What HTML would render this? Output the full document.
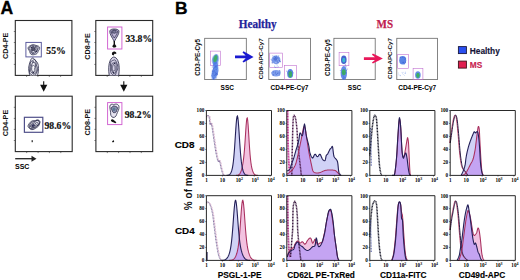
<!DOCTYPE html>
<html><head><meta charset="utf-8"><title>Figure</title>
<style>html,body{margin:0;padding:0;background:#fff;width:520px;height:280px;overflow:hidden}svg{display:block}</style>
</head><body>
<svg width="520" height="280" viewBox="0 0 520 280">
<defs><filter id="bl" x="-50%" y="-50%" width="200%" height="200%"><feGaussianBlur stdDeviation="0.6"/></filter></defs>
<rect width="520" height="280" fill="#fff"/>
<text x="0.4" y="13.7" font-family='"Liberation Sans", sans-serif' font-weight="bold" font-size="17.6" stroke="#000" stroke-width="0.3">A</text>
<text x="174.9" y="13.7" font-family='"Liberation Sans", sans-serif' font-weight="bold" font-size="17.4" stroke="#000" stroke-width="0.3">B</text>
<rect x="15.3" y="20.5" width="56.60000000000001" height="54.900000000000006" fill="none" stroke="#2a2a2a" stroke-width="1.1"/>
<line x1="26.6" y1="75.4" x2="26.6" y2="76.9" stroke="#333" stroke-width="0.6"/><line x1="13.8" y1="64.4" x2="15.3" y2="64.4" stroke="#333" stroke-width="0.6"/><line x1="37.9" y1="75.4" x2="37.9" y2="76.9" stroke="#333" stroke-width="0.6"/><line x1="13.8" y1="53.4" x2="15.3" y2="53.4" stroke="#333" stroke-width="0.6"/><line x1="49.3" y1="75.4" x2="49.3" y2="76.9" stroke="#333" stroke-width="0.6"/><line x1="13.8" y1="42.5" x2="15.3" y2="42.5" stroke="#333" stroke-width="0.6"/><line x1="60.6" y1="75.4" x2="60.6" y2="76.9" stroke="#333" stroke-width="0.6"/><line x1="13.8" y1="31.5" x2="15.3" y2="31.5" stroke="#333" stroke-width="0.6"/>
<rect x="95.8" y="20.5" width="56.89999999999999" height="54.900000000000006" fill="none" stroke="#2a2a2a" stroke-width="1.1"/>
<line x1="107.2" y1="75.4" x2="107.2" y2="76.9" stroke="#333" stroke-width="0.6"/><line x1="94.3" y1="64.4" x2="95.8" y2="64.4" stroke="#333" stroke-width="0.6"/><line x1="118.6" y1="75.4" x2="118.6" y2="76.9" stroke="#333" stroke-width="0.6"/><line x1="94.3" y1="53.4" x2="95.8" y2="53.4" stroke="#333" stroke-width="0.6"/><line x1="129.9" y1="75.4" x2="129.9" y2="76.9" stroke="#333" stroke-width="0.6"/><line x1="94.3" y1="42.5" x2="95.8" y2="42.5" stroke="#333" stroke-width="0.6"/><line x1="141.3" y1="75.4" x2="141.3" y2="76.9" stroke="#333" stroke-width="0.6"/><line x1="94.3" y1="31.5" x2="95.8" y2="31.5" stroke="#333" stroke-width="0.6"/>
<rect x="15.3" y="96.2" width="56.900000000000006" height="55.39999999999999" fill="none" stroke="#2a2a2a" stroke-width="1.1"/>
<line x1="26.7" y1="151.6" x2="26.7" y2="153.1" stroke="#333" stroke-width="0.6"/><line x1="13.8" y1="140.5" x2="15.3" y2="140.5" stroke="#333" stroke-width="0.6"/><line x1="38.1" y1="151.6" x2="38.1" y2="153.1" stroke="#333" stroke-width="0.6"/><line x1="13.8" y1="129.4" x2="15.3" y2="129.4" stroke="#333" stroke-width="0.6"/><line x1="49.4" y1="151.6" x2="49.4" y2="153.1" stroke="#333" stroke-width="0.6"/><line x1="13.8" y1="118.4" x2="15.3" y2="118.4" stroke="#333" stroke-width="0.6"/><line x1="60.8" y1="151.6" x2="60.8" y2="153.1" stroke="#333" stroke-width="0.6"/><line x1="13.8" y1="107.3" x2="15.3" y2="107.3" stroke="#333" stroke-width="0.6"/>
<rect x="95.9" y="96.2" width="56.79999999999998" height="55.39999999999999" fill="none" stroke="#2a2a2a" stroke-width="1.1"/>
<line x1="107.3" y1="151.6" x2="107.3" y2="153.1" stroke="#333" stroke-width="0.6"/><line x1="94.4" y1="140.5" x2="95.9" y2="140.5" stroke="#333" stroke-width="0.6"/><line x1="118.6" y1="151.6" x2="118.6" y2="153.1" stroke="#333" stroke-width="0.6"/><line x1="94.4" y1="129.4" x2="95.9" y2="129.4" stroke="#333" stroke-width="0.6"/><line x1="130.0" y1="151.6" x2="130.0" y2="153.1" stroke="#333" stroke-width="0.6"/><line x1="94.4" y1="118.4" x2="95.9" y2="118.4" stroke="#333" stroke-width="0.6"/><line x1="141.3" y1="151.6" x2="141.3" y2="153.1" stroke="#333" stroke-width="0.6"/><line x1="94.4" y1="107.3" x2="95.9" y2="107.3" stroke="#333" stroke-width="0.6"/>
<text transform="translate(8.4,45.8) rotate(-90)" text-anchor="middle" font-family='"Liberation Sans", sans-serif' font-weight="bold" font-size="7.2" fill="#111">CD4-PE</text>
<text transform="translate(89.8,46.5) rotate(-90)" text-anchor="middle" font-family='"Liberation Sans", sans-serif' font-weight="bold" font-size="7.2" fill="#111">CD8-PE</text>
<text transform="translate(8.4,123.0) rotate(-90)" text-anchor="middle" font-family='"Liberation Sans", sans-serif' font-weight="bold" font-size="7.2" fill="#111">CD4-PE</text>
<text transform="translate(89.8,122.2) rotate(-90)" text-anchor="middle" font-family='"Liberation Sans", sans-serif' font-weight="bold" font-size="7.2" fill="#111">CD8-PE</text>
<rect x="25.9" y="42.4" width="15.4" height="14.5" fill="none" stroke="#55559a" stroke-width="0.95"/>
<rect x="107.6" y="27" width="14.3" height="22" fill="none" stroke="#d060d0" stroke-width="0.95"/>
<rect x="24.4" y="117.3" width="18.4" height="15" fill="none" stroke="#50508a" stroke-width="1.2"/>
<rect x="107.6" y="102.6" width="14.3" height="22" fill="none" stroke="#d060d0" stroke-width="0.95"/>
<text x="46.3" y="53.8" font-family='"Liberation Serif", serif' font-weight="bold" font-size="9.7" fill="#111" stroke="#111" stroke-width="0.2">55%</text>
<text x="125.5" y="41.7" font-family='"Liberation Serif", serif' font-weight="bold" font-size="9.7" fill="#111" stroke="#111" stroke-width="0.2">33.8%</text>
<text x="44.5" y="128.8" font-family='"Liberation Serif", serif' font-weight="bold" font-size="9.7" fill="#111" stroke="#111" stroke-width="0.2">98.6%</text>
<text x="124.7" y="117.8" font-family='"Liberation Serif", serif' font-weight="bold" font-size="9.7" fill="#111" stroke="#111" stroke-width="0.2">98.2%</text>
<clipPath id="cA1"><rect x="15.3" y="20.5" width="56.6" height="54.9"/></clipPath>
<clipPath id="cB1"><rect x="95.8" y="20.5" width="56.9" height="54.9"/></clipPath>
<g>
<path d="M39.25,49.50 L38.79,50.23 L38.39,50.88 L38.09,51.53 L37.83,52.21 L37.48,52.91 L36.96,53.52 L36.27,53.99 L35.49,54.31 L34.66,54.54 L33.80,54.71 L32.89,54.80 L31.97,54.71 L31.12,54.36 L30.47,53.74 L30.07,52.95 L29.86,52.15 L29.68,51.44 L29.39,50.83 L28.94,50.21 L28.45,49.50 L28.12,48.67 L28.11,47.79 L28.47,46.99 L29.10,46.34 L29.84,45.84 L30.61,45.43 L31.37,45.08 L32.15,44.80 L32.97,44.66 L33.80,44.71 L34.58,44.92 L35.31,45.20 L36.03,45.45 L36.82,45.65 L37.71,45.88 L38.60,46.27 L39.30,46.90 L39.66,47.74 L39.61,48.65 Z" fill="#e6e6f0" stroke="#2a2a48" stroke-width="0.8" opacity="1"/>
<path d="M37.70,49.30 L37.39,49.86 L37.15,50.37 L36.97,50.89 L36.75,51.43 L36.44,51.94 L36.01,52.38 L35.49,52.74 L34.91,53.04 L34.29,53.32 L33.60,53.54 L32.86,53.62 L32.14,53.48 L31.53,53.08 L31.10,52.49 L30.86,51.84 L30.70,51.26 L30.48,50.77 L30.14,50.35 L29.69,49.87 L29.30,49.30 L29.09,48.64 L29.16,47.96 L29.48,47.35 L29.96,46.84 L30.50,46.42 L31.07,46.07 L31.67,45.79 L32.31,45.62 L32.97,45.61 L33.60,45.74 L34.18,45.92 L34.73,46.06 L35.34,46.13 L36.04,46.18 L36.80,46.33 L37.50,46.67 L37.97,47.23 L38.12,47.93 L37.99,48.65 Z" fill="none" stroke="#2a2a48" stroke-width="0.8" opacity="1"/>
<path d="M36.98,49.60 L36.89,50.04 L36.83,50.49 L36.72,50.94 L36.47,51.34 L36.04,51.59 L35.51,51.67 L35.02,51.66 L34.63,51.70 L34.29,51.92 L33.90,52.29 L33.38,52.67 L32.77,52.85 L32.21,52.70 L31.83,52.25 L31.68,51.67 L31.65,51.13 L31.59,50.70 L31.42,50.35 L31.18,50.00 L30.98,49.60 L30.96,49.17 L31.12,48.76 L31.38,48.40 L31.61,48.05 L31.79,47.63 L31.99,47.14 L32.30,46.67 L32.78,46.38 L33.35,46.39 L33.90,46.69 L34.32,47.14 L34.62,47.52 L34.93,47.71 L35.36,47.72 L35.92,47.71 L36.50,47.84 L36.94,48.16 L37.13,48.62 L37.10,49.13 Z" fill="none" stroke="#2a2a48" stroke-width="0.8" opacity="1"/>
<path d="M35.23,49.20 L35.30,49.47 L35.40,49.78 L35.42,50.12 L35.27,50.41 L34.95,50.57 L34.55,50.56 L34.17,50.45 L33.90,50.37 L33.71,50.43 L33.50,50.63 L33.22,50.88 L32.87,51.04 L32.52,51.01 L32.27,50.80 L32.12,50.50 L32.03,50.21 L31.93,49.95 L31.79,49.72 L31.66,49.48 L31.63,49.20 L31.74,48.94 L31.97,48.73 L32.21,48.58 L32.36,48.42 L32.40,48.17 L32.43,47.81 L32.54,47.42 L32.79,47.14 L33.14,47.07 L33.50,47.23 L33.78,47.53 L33.98,47.81 L34.16,47.98 L34.38,48.05 L34.67,48.10 L34.95,48.21 L35.14,48.41 L35.21,48.67 L35.22,48.94 Z" fill="#55556a" stroke="#2a2a48" stroke-width="0.8" opacity="1"/>
<circle cx="31.3" cy="47.6" r="0.8" fill="#2a2a48"/><circle cx="36.3" cy="51.5" r="0.8" fill="#2a2a48"/><circle cx="35.8" cy="46.8" r="0.6" fill="#2a2a48"/>
</g>
<g clip-path="url(#cA1)">
<path d="M38.47,68.50 L38.45,70.07 L38.34,71.64 L38.09,73.18 L37.65,74.53 L37.04,75.57 L36.31,76.24 L35.57,76.64 L34.87,76.96 L34.20,77.38 L33.50,77.88 L32.72,78.29 L31.90,78.36 L31.10,77.92 L30.42,76.98 L29.89,75.71 L29.50,74.31 L29.19,72.89 L28.93,71.47 L28.74,70.01 L28.67,68.50 L28.77,67.00 L29.02,65.59 L29.36,64.28 L29.72,63.01 L30.11,61.71 L30.55,60.38 L31.12,59.17 L31.85,58.32 L32.67,58.02 L33.50,58.28 L34.26,58.93 L34.93,59.72 L35.55,60.46 L36.18,61.13 L36.82,61.85 L37.43,62.79 L37.93,63.99 L38.25,65.41 L38.42,66.94 Z" fill="#eeeef4" stroke="#2a2a48" stroke-width="0.8" opacity="1"/>
<path d="M37.38,68.20 L37.49,69.60 L37.31,70.94 L36.92,72.07 L36.44,72.97 L35.99,73.79 L35.58,74.68 L35.15,75.60 L34.63,76.34 L34.02,76.64 L33.40,76.41 L32.84,75.83 L32.35,75.21 L31.85,74.77 L31.27,74.51 L30.62,74.19 L30.00,73.52 L29.57,72.41 L29.43,70.98 L29.55,69.52 L29.78,68.20 L29.98,67.03 L30.09,65.88 L30.15,64.62 L30.29,63.33 L30.62,62.20 L31.12,61.41 L31.70,60.99 L32.28,60.74 L32.83,60.44 L33.40,60.01 L34.03,59.63 L34.69,59.61 L35.30,60.16 L35.74,61.25 L36.00,62.59 L36.15,63.88 L36.34,64.96 L36.66,65.92 L37.05,66.95 Z" fill="none" stroke="#2a2a48" stroke-width="0.8" opacity="1"/>
<path d="M35.93,68.50 L36.11,69.46 L36.20,70.52 L36.11,71.57 L35.87,72.47 L35.50,73.12 L35.09,73.56 L34.68,73.84 L34.28,74.03 L33.89,74.14 L33.50,74.13 L33.12,73.97 L32.77,73.70 L32.42,73.39 L32.06,73.08 L31.67,72.73 L31.26,72.26 L30.89,71.57 L30.65,70.63 L30.60,69.56 L30.73,68.50 L30.98,67.58 L31.25,66.81 L31.48,66.13 L31.66,65.41 L31.83,64.64 L32.04,63.85 L32.32,63.15 L32.67,62.62 L33.07,62.29 L33.50,62.13 L33.94,62.12 L34.37,62.29 L34.78,62.70 L35.12,63.37 L35.34,64.25 L35.46,65.21 L35.52,66.12 L35.60,66.93 L35.74,67.68 Z" fill="none" stroke="#2a2a48" stroke-width="0.8" opacity="1"/>
<path d="M34.57,69.00 L34.65,69.51 L34.72,70.11 L34.72,70.74 L34.62,71.30 L34.42,71.69 L34.19,71.94 L33.97,72.13 L33.76,72.37 L33.54,72.64 L33.30,72.84 L33.05,72.83 L32.82,72.54 L32.65,72.07 L32.53,71.56 L32.40,71.15 L32.23,70.87 L32.00,70.59 L31.76,70.20 L31.60,69.65 L31.57,69.00 L31.68,68.39 L31.87,67.88 L32.05,67.47 L32.19,67.07 L32.30,66.60 L32.43,66.11 L32.60,65.72 L32.83,65.52 L33.07,65.53 L33.30,65.64 L33.52,65.72 L33.75,65.70 L34.01,65.65 L34.29,65.73 L34.52,66.06 L34.66,66.63 L34.67,67.32 L34.62,67.97 L34.56,68.52 Z" fill="none" stroke="#2a2a48" stroke-width="0.7" opacity="1"/>
<ellipse cx="33.4" cy="67.3" rx="0.9" ry="1.4" fill="#fff"/>
<circle cx="33" cy="62" r="0.8" fill="#2a2a48"/><circle cx="33.4" cy="72.5" r="0.9" fill="#2a2a48"/><circle cx="31" cy="65" r="0.6" fill="#2a2a48"/>
</g>
<path d="M109.8,31 C110,28.3 118.5,28.3 119,31 C119.3,34 116.5,37.5 114.3,41.5 C112,37.5 109.5,34 109.8,31 Z" fill="#bcb4d4" stroke="#2a2a48" stroke-width="0.8"/>
<path d="M111.2,31.2 C111.8,29.6 117,29.6 117.6,31.2 C117.6,33.5 115.8,35.8 114.3,38 C112.8,35.8 111.2,33.5 111.2,31.2 Z" fill="none" stroke="#2a2a48" stroke-width="0.7"/>
<path d="M116.34,31.80 L116.47,32.07 L116.41,32.34 L116.18,32.56 L115.87,32.71 L115.57,32.83 L115.32,32.95 L115.08,33.09 L114.81,33.22 L114.51,33.28 L114.20,33.25 L113.91,33.16 L113.65,33.06 L113.39,33.00 L113.06,32.97 L112.68,32.94 L112.32,32.83 L112.07,32.62 L112.01,32.33 L112.13,32.05 L112.34,31.80 L112.52,31.60 L112.61,31.41 L112.62,31.20 L112.64,30.95 L112.75,30.71 L112.97,30.53 L113.26,30.42 L113.58,30.37 L113.89,30.32 L114.20,30.25 L114.54,30.20 L114.89,30.21 L115.20,30.32 L115.41,30.55 L115.51,30.82 L115.55,31.06 L115.63,31.25 L115.81,31.41 L116.08,31.58 Z" fill="#7a7898" stroke="#2a2a48" stroke-width="0.7" opacity="1"/>
<path d="M113.6,41 L115,41 L115,44.2 L116.5,46.3 L115.3,47.6 L113.3,47.6 L112.2,46.3 L113.6,44.2 Z" fill="#111"/>
<g clip-path="url(#cB1)">
<path d="M109.3,76 C108.3,70 108.5,64 110.2,60.5 C111,58.5 112.5,57.2 113.8,57 C115.5,57.2 117,58.5 117.8,60.5 C119.5,64 119.5,70 118.6,76 Z" fill="#d6d2e6" stroke="#2a2a48" stroke-width="0.85"/>
<path d="M117.83,67.50 L117.67,68.79 L117.32,69.91 L116.90,70.81 L116.51,71.62 L116.21,72.50 L115.91,73.51 L115.55,74.53 L115.07,75.32 L114.50,75.69 L113.90,75.62 L113.33,75.26 L112.80,74.81 L112.28,74.37 L111.76,73.89 L111.26,73.21 L110.88,72.26 L110.66,71.07 L110.61,69.82 L110.63,68.62 L110.63,67.50 L110.56,66.35 L110.47,65.09 L110.48,63.72 L110.69,62.45 L111.11,61.46 L111.68,60.89 L112.28,60.63 L112.85,60.49 L113.37,60.29 L113.90,60.02 L114.46,59.85 L115.03,59.98 L115.55,60.47 L115.99,61.27 L116.35,62.18 L116.70,63.09 L117.08,63.99 L117.46,65.00 L117.74,66.18 Z" fill="none" stroke="#2a2a48" stroke-width="0.75" opacity="1"/>
<path d="M116.27,67.80 L116.28,68.65 L116.22,69.49 L116.06,70.27 L115.85,70.97 L115.61,71.63 L115.36,72.29 L115.08,72.97 L114.74,73.57 L114.33,73.94 L113.90,73.95 L113.49,73.59 L113.15,72.99 L112.87,72.34 L112.61,71.79 L112.32,71.34 L111.99,70.90 L111.67,70.34 L111.42,69.61 L111.29,68.73 L111.27,67.80 L111.35,66.89 L111.46,66.03 L111.61,65.18 L111.80,64.39 L112.07,63.71 L112.42,63.23 L112.81,62.99 L113.19,62.92 L113.55,62.88 L113.90,62.75 L114.27,62.52 L114.69,62.33 L115.14,62.36 L115.55,62.73 L115.85,63.42 L116.04,64.32 L116.13,65.26 L116.17,66.14 L116.22,66.98 Z" fill="none" stroke="#2a2a48" stroke-width="0.75" opacity="1"/>
<path d="M115.04,68.00 L115.07,68.49 L115.09,69.03 L115.07,69.59 L114.97,70.10 L114.78,70.47 L114.54,70.66 L114.30,70.70 L114.08,70.70 L113.89,70.77 L113.70,70.92 L113.49,71.08 L113.25,71.15 L113.02,71.03 L112.83,70.74 L112.68,70.33 L112.56,69.90 L112.45,69.46 L112.34,69.01 L112.26,68.52 L112.24,68.00 L112.30,67.49 L112.42,67.05 L112.57,66.69 L112.70,66.34 L112.80,65.95 L112.90,65.48 L113.03,64.99 L113.22,64.61 L113.45,64.45 L113.70,64.52 L113.92,64.76 L114.12,65.06 L114.30,65.33 L114.48,65.56 L114.66,65.81 L114.82,66.13 L114.94,66.56 L115.00,67.03 L115.02,67.52 Z" fill="none" stroke="#2a2a48" stroke-width="0.7" opacity="1"/>
<circle cx="113.5" cy="72.6" r="0.8" fill="#2a2a48"/><circle cx="114.5" cy="63.5" r="0.7" fill="#2a2a48"/>
</g>
<path d="M112,54.8 C111.5,52.6 113,51.4 114.6,51.6 C116.2,51.9 116.8,53.2 116,54.2 C115.2,53.4 114,53.6 113.8,55.4 Z" fill="#111"/>
<path d="M39.25,121.90 L39.33,122.57 L39.32,123.24 L39.27,123.91 L39.15,124.60 L38.90,125.31 L38.47,126.01 L37.86,126.66 L37.14,127.23 L36.38,127.73 L35.61,128.20 L34.81,128.68 L33.95,129.13 L33.03,129.46 L32.10,129.60 L31.27,129.50 L30.59,129.20 L30.04,128.79 L29.57,128.38 L29.11,127.97 L28.65,127.54 L28.28,127.03 L28.08,126.42 L28.12,125.72 L28.37,125.00 L28.76,124.30 L29.21,123.61 L29.71,122.92 L30.29,122.25 L31.01,121.63 L31.85,121.14 L32.76,120.82 L33.65,120.67 L34.49,120.61 L35.29,120.57 L36.11,120.52 L36.95,120.49 L37.78,120.57 L38.49,120.84 L38.99,121.30 Z" fill="#eaeaf2" stroke="#2a2a48" stroke-width="0.9" opacity="1"/>
<path d="M37.68,122.83 L38.06,123.19 L38.24,123.67 L38.17,124.22 L37.91,124.80 L37.52,125.35 L37.09,125.87 L36.65,126.36 L36.15,126.82 L35.60,127.24 L34.97,127.59 L34.32,127.83 L33.68,128.01 L33.04,128.17 L32.38,128.33 L31.69,128.47 L30.98,128.53 L30.34,128.42 L29.87,128.13 L29.62,127.68 L29.56,127.15 L29.60,126.63 L29.64,126.14 L29.66,125.67 L29.68,125.18 L29.79,124.66 L30.04,124.12 L30.45,123.60 L30.96,123.12 L31.54,122.69 L32.16,122.29 L32.81,121.93 L33.51,121.64 L34.22,121.49 L34.88,121.50 L35.44,121.67 L35.89,121.92 L36.30,122.17 L36.72,122.38 L37.20,122.58 Z" fill="none" stroke="#2a2a48" stroke-width="0.9" opacity="1"/>
<path d="M35.86,123.99 L36.03,124.24 L36.16,124.52 L36.20,124.85 L36.11,125.20 L35.92,125.55 L35.68,125.89 L35.43,126.23 L35.15,126.57 L34.82,126.92 L34.42,127.21 L33.95,127.41 L33.48,127.47 L33.05,127.43 L32.68,127.35 L32.32,127.30 L31.95,127.29 L31.53,127.29 L31.11,127.24 L30.76,127.08 L30.56,126.81 L30.50,126.47 L30.54,126.11 L30.62,125.75 L30.72,125.40 L30.84,125.05 L31.04,124.69 L31.35,124.36 L31.73,124.08 L32.14,123.87 L32.54,123.68 L32.92,123.48 L33.33,123.24 L33.78,123.01 L34.27,122.84 L34.74,122.81 L35.13,122.93 L35.40,123.18 L35.57,123.47 L35.70,123.75 Z" fill="none" stroke="#2a2a48" stroke-width="0.9" opacity="1"/>
<path d="M34.61,124.85 L34.73,124.99 L34.78,125.16 L34.76,125.36 L34.69,125.56 L34.59,125.76 L34.47,125.95 L34.33,126.14 L34.15,126.31 L33.94,126.45 L33.70,126.55 L33.47,126.61 L33.25,126.65 L33.03,126.71 L32.80,126.78 L32.55,126.84 L32.30,126.87 L32.07,126.82 L31.91,126.71 L31.82,126.54 L31.79,126.35 L31.78,126.17 L31.78,125.99 L31.77,125.82 L31.79,125.64 L31.86,125.45 L31.98,125.26 L32.13,125.09 L32.30,124.93 L32.48,124.77 L32.67,124.60 L32.89,124.45 L33.14,124.34 L33.40,124.29 L33.63,124.32 L33.82,124.40 L33.98,124.51 L34.12,124.60 L34.28,124.68 L34.45,124.75 Z" fill="#3a3a66" stroke="#2a2a48" stroke-width="0.8" opacity="1"/>
<path d="M35.8,120.3 C38.5,119.3 40.2,120.6 39.9,122.6 C39.6,124.3 38.3,125.3 37.2,125.6" fill="none" stroke="#2a2a48" stroke-width="1.0"/>
<rect x="31.6" y="140.2" width="1.2" height="2" fill="#222"/>
<path d="M109.8,106.6 C109.8,104.2 112,103.6 113.8,104.8 C115.6,103.4 118.6,104 119,106.6 C119.4,109.5 117.4,112 116.6,114.5 C116,116.8 114.6,117.6 113,117.4 C111,117 110.4,114.5 110.6,112.3 C110.4,110.5 109.8,108.6 109.8,106.6 Z" fill="#e6e4f0" stroke="#2a2a48" stroke-width="0.8"/>
<path d="M117.26,109.20 L117.04,109.67 L116.84,110.10 L116.70,110.54 L116.58,111.00 L116.40,111.48 L116.13,111.90 L115.76,112.23 L115.33,112.45 L114.87,112.58 L114.40,112.66 L113.92,112.66 L113.44,112.56 L113.01,112.31 L112.66,111.92 L112.44,111.43 L112.29,110.94 L112.16,110.50 L111.97,110.10 L111.72,109.68 L111.46,109.20 L111.31,108.64 L111.33,108.06 L111.54,107.54 L111.89,107.12 L112.30,106.81 L112.72,106.56 L113.12,106.35 L113.53,106.17 L113.96,106.06 L114.40,106.06 L114.83,106.15 L115.23,106.29 L115.64,106.43 L116.07,106.58 L116.54,106.77 L116.98,107.06 L117.32,107.50 L117.48,108.06 L117.45,108.65 Z" fill="#8a90b0" stroke="#2a2a48" stroke-width="0.85" opacity="1"/>
<ellipse cx="114" cy="109.2" rx="1.4" ry="1.8" fill="#5a7890"/>
<path d="M110.9,120.2 C111.6,118.9 113,119.3 114,120.2 L116.4,122.2 L115.4,123.2 L113.2,122.2 C112,121.8 110.9,121.4 110.9,120.2 Z" fill="#111"/>
<path d="M112,141.5 L113.6,140 L114.2,141.8 L112.8,142.5 Z" fill="#111"/>
<line x1="43.7" y1="81.2" x2="43.7" y2="86.8" stroke="#111" stroke-width="1.1"/>
<path d="M40.1,84.8 L47.300000000000004,84.8 L43.7,91.8 Z" fill="#111"/>
<line x1="123.8" y1="81.2" x2="123.8" y2="86.8" stroke="#111" stroke-width="1.1"/>
<path d="M120.2,84.8 L127.39999999999999,84.8 L123.8,91.8 Z" fill="#111"/>
<line x1="15.2" y1="158.7" x2="33" y2="158.7" stroke="#222" stroke-width="1.3"/>
<path d="M31.5,155.7 L36.5,158.7 L31.5,161.7 Z" fill="#222"/>
<text x="15" y="168.9" font-family='"Liberation Sans", sans-serif' font-weight="bold" font-size="7">SSC</text>
<text x="238.7" y="27.6" font-family='"Liberation Serif", serif' font-weight="bold" font-size="12.2" textLength="38" lengthAdjust="spacingAndGlyphs" fill="#22239a" stroke="#22239a" stroke-width="0.25">Healthy</text>
<text x="376.6" y="27.5" font-family='"Liberation Serif", serif' font-weight="bold" font-size="12.8" textLength="16.5" lengthAdjust="spacingAndGlyphs" fill="#c02050" stroke="#c02050" stroke-width="0.25">MS</text>
<rect x="204.7" y="38.3" width="41.60000000000002" height="41.3" fill="none" stroke="#666" stroke-width="0.8"/>

<rect x="268.8" y="38.3" width="41.80000000000001" height="41.3" fill="none" stroke="#666" stroke-width="0.8"/>

<rect x="333.9" y="38.3" width="41.30000000000001" height="41.3" fill="none" stroke="#666" stroke-width="0.8"/>

<rect x="396.8" y="38.3" width="40.69999999999999" height="41.3" fill="none" stroke="#666" stroke-width="0.8"/>

<text transform="translate(200.0,57.4) rotate(-90)" text-anchor="middle" font-family='"Liberation Sans", sans-serif' font-weight="bold" font-size="6.3" fill="#111">CD3-PE-Cy5</text>
<text transform="translate(263.0,58.8) rotate(-90)" text-anchor="middle" font-family='"Liberation Sans", sans-serif' font-weight="bold" font-size="6.2" fill="#111">CD8-APC-Cy7</text>
<text transform="translate(329.8,57.7) rotate(-90)" text-anchor="middle" font-family='"Liberation Sans", sans-serif' font-weight="bold" font-size="6.3" fill="#111">CD3-PE-Cy5</text>
<text transform="translate(391.6,58.5) rotate(-90)" text-anchor="middle" font-family='"Liberation Sans", sans-serif' font-weight="bold" font-size="6.2" fill="#111">CD8-APC-Cy7</text>
<text x="227.3" y="89.8" text-anchor="middle" font-family='"Liberation Sans", sans-serif' font-weight="bold" font-size="6.5">SSC</text>
<text x="289.5" y="89.8" text-anchor="middle" font-family='"Liberation Sans", sans-serif' font-weight="bold" font-size="6.5">CD4-PE-Cy7</text>
<text x="354.5" y="89.8" text-anchor="middle" font-family='"Liberation Sans", sans-serif' font-weight="bold" font-size="6.5">SSC</text>
<text x="417.2" y="89.8" text-anchor="middle" font-family='"Liberation Sans", sans-serif' font-weight="bold" font-size="6.5">CD4-PE-Cy7</text>
<rect x="210.3" y="51.1" width="10.199999999999989" height="14.499999999999993" fill="none" stroke="#c070d0" stroke-width="0.6"/>
<rect x="269.7" y="53.1" width="12.900000000000034" height="14.199999999999996" fill="none" stroke="#c070d0" stroke-width="0.6"/>
<rect x="284.6" y="65.4" width="12.0" height="13.899999999999991" fill="none" stroke="#c070d0" stroke-width="0.6"/>
<rect x="339.1" y="52.4" width="9.799999999999955" height="13.300000000000004" fill="none" stroke="#c070d0" stroke-width="0.6"/>
<rect x="397.7" y="54.3" width="10.900000000000034" height="14.0" fill="none" stroke="#c070d0" stroke-width="0.6"/>
<rect x="413.1" y="68.3" width="9.799999999999955" height="11.299999999999997" fill="none" stroke="#c070d0" stroke-width="0.6"/>
<ellipse cx="214.9" cy="72.5" rx="3.1" ry="7.4" transform="rotate(14 214.9 72.5)" fill="#4a78e4" opacity="0.85" filter="url(#bl)"/>
<ellipse cx="215.5" cy="65.0" rx="2.6" ry="3.2" transform="rotate(10 215.5 65.0)" fill="#4a78e4" opacity="0.8" filter="url(#bl)"/>
<circle cx="214.24" cy="75.21" r="0.55" fill="#3050c8" opacity="0.55"/><circle cx="214.30" cy="70.79" r="0.55" fill="#3050c8" opacity="0.55"/><circle cx="212.66" cy="71.45" r="0.55" fill="#3050c8" opacity="0.55"/><circle cx="217.43" cy="74.48" r="0.55" fill="#3050c8" opacity="0.55"/><circle cx="217.33" cy="73.70" r="0.55" fill="#3050c8" opacity="0.55"/><circle cx="215.94" cy="73.50" r="0.55" fill="#3050c8" opacity="0.55"/><circle cx="211.83" cy="75.74" r="0.55" fill="#3050c8" opacity="0.55"/><circle cx="216.18" cy="75.09" r="0.55" fill="#3050c8" opacity="0.55"/><circle cx="212.32" cy="67.05" r="0.55" fill="#3050c8" opacity="0.55"/><circle cx="212.78" cy="70.21" r="0.55" fill="#3050c8" opacity="0.55"/><circle cx="215.71" cy="72.25" r="0.55" fill="#3050c8" opacity="0.55"/><circle cx="216.19" cy="69.24" r="0.55" fill="#3050c8" opacity="0.55"/><circle cx="215.70" cy="74.61" r="0.55" fill="#3050c8" opacity="0.55"/><circle cx="213.67" cy="79.08" r="0.55" fill="#3050c8" opacity="0.55"/><circle cx="216.12" cy="77.89" r="0.55" fill="#3050c8" opacity="0.55"/><circle cx="213.41" cy="68.85" r="0.55" fill="#3050c8" opacity="0.55"/><circle cx="213.99" cy="71.92" r="0.55" fill="#3050c8" opacity="0.55"/><circle cx="216.51" cy="73.79" r="0.55" fill="#3050c8" opacity="0.55"/><circle cx="213.85" cy="67.88" r="0.55" fill="#3050c8" opacity="0.55"/><circle cx="213.76" cy="77.99" r="0.55" fill="#3050c8" opacity="0.55"/><circle cx="212.91" cy="73.74" r="0.55" fill="#3050c8" opacity="0.55"/><circle cx="215.77" cy="66.23" r="0.55" fill="#3050c8" opacity="0.55"/>
<ellipse cx="215.4" cy="59.5" rx="3.2" ry="5.4" transform="rotate(12 215.4 59.5)" fill="#4a78e4" opacity="0.85" filter="url(#bl)"/>
<ellipse cx="215.4" cy="58.6" rx="1.9" ry="3.7" transform="rotate(15 215.4 58.6)" fill="#3cae64" opacity="1.0" filter="url(#bl)"/>
<ellipse cx="276" cy="59.8" rx="4.4" ry="4.2" transform="rotate(0 276 59.8)" fill="#4a78e4" opacity="0.75" filter="url(#bl)"/>
<ellipse cx="275.5" cy="59" rx="2.0" ry="1.8" transform="rotate(0 275.5 59)" fill="#3050c8" opacity="0.5" filter="url(#bl)"/>
<circle cx="276.15" cy="63.94" r="0.55" fill="#3050c8" opacity="0.5"/><circle cx="271.20" cy="59.23" r="0.55" fill="#3050c8" opacity="0.5"/><circle cx="275.64" cy="57.23" r="0.55" fill="#3050c8" opacity="0.5"/><circle cx="277.77" cy="59.78" r="0.55" fill="#3050c8" opacity="0.5"/><circle cx="272.06" cy="62.23" r="0.55" fill="#3050c8" opacity="0.5"/><circle cx="278.10" cy="62.97" r="0.55" fill="#3050c8" opacity="0.5"/><circle cx="280.12" cy="61.04" r="0.55" fill="#3050c8" opacity="0.5"/><circle cx="276.36" cy="56.08" r="0.55" fill="#3050c8" opacity="0.5"/><circle cx="278.07" cy="57.95" r="0.55" fill="#3050c8" opacity="0.5"/><circle cx="274.65" cy="56.23" r="0.55" fill="#3050c8" opacity="0.5"/><circle cx="272.92" cy="58.31" r="0.55" fill="#3050c8" opacity="0.5"/><circle cx="278.71" cy="55.73" r="0.55" fill="#3050c8" opacity="0.5"/><circle cx="271.82" cy="60.69" r="0.55" fill="#3050c8" opacity="0.5"/><circle cx="280.04" cy="61.62" r="0.55" fill="#3050c8" opacity="0.5"/><circle cx="272.88" cy="55.86" r="0.55" fill="#3050c8" opacity="0.5"/><circle cx="277.21" cy="57.50" r="0.55" fill="#3050c8" opacity="0.5"/><circle cx="272.80" cy="62.80" r="0.55" fill="#3050c8" opacity="0.5"/><circle cx="279.50" cy="60.50" r="0.55" fill="#3050c8" opacity="0.5"/><circle cx="276.88" cy="61.55" r="0.55" fill="#3050c8" opacity="0.5"/><circle cx="280.25" cy="61.65" r="0.55" fill="#3050c8" opacity="0.5"/><circle cx="277.78" cy="61.88" r="0.55" fill="#3050c8" opacity="0.5"/><circle cx="272.24" cy="63.07" r="0.55" fill="#3050c8" opacity="0.5"/>
<circle cx="278.34" cy="61.30" r="0.5" fill="#ffffff" opacity="0.35"/><circle cx="272.42" cy="58.85" r="0.5" fill="#ffffff" opacity="0.35"/><circle cx="277.57" cy="56.63" r="0.5" fill="#ffffff" opacity="0.35"/><circle cx="275.54" cy="62.54" r="0.5" fill="#ffffff" opacity="0.35"/><circle cx="273.62" cy="62.92" r="0.5" fill="#ffffff" opacity="0.35"/><circle cx="277.50" cy="59.59" r="0.5" fill="#ffffff" opacity="0.35"/><circle cx="276.86" cy="61.72" r="0.5" fill="#ffffff" opacity="0.35"/><circle cx="276.29" cy="62.77" r="0.5" fill="#ffffff" opacity="0.35"/>
<ellipse cx="276" cy="73.2" rx="4.5" ry="3.3" transform="rotate(0 276 73.2)" fill="#4a78e4" opacity="0.7" filter="url(#bl)"/>
<circle cx="273.61" cy="71.91" r="0.55" fill="#3050c8" opacity="0.5"/><circle cx="279.56" cy="73.07" r="0.55" fill="#3050c8" opacity="0.5"/><circle cx="273.18" cy="75.20" r="0.55" fill="#3050c8" opacity="0.5"/><circle cx="280.37" cy="72.03" r="0.55" fill="#3050c8" opacity="0.5"/><circle cx="271.70" cy="72.69" r="0.55" fill="#3050c8" opacity="0.5"/><circle cx="275.43" cy="72.17" r="0.55" fill="#3050c8" opacity="0.5"/><circle cx="279.92" cy="70.92" r="0.55" fill="#3050c8" opacity="0.5"/><circle cx="279.46" cy="70.47" r="0.55" fill="#3050c8" opacity="0.5"/><circle cx="273.29" cy="74.58" r="0.55" fill="#3050c8" opacity="0.5"/><circle cx="279.49" cy="74.93" r="0.55" fill="#3050c8" opacity="0.5"/><circle cx="277.32" cy="73.40" r="0.55" fill="#3050c8" opacity="0.5"/><circle cx="276.57" cy="74.56" r="0.55" fill="#3050c8" opacity="0.5"/><circle cx="275.32" cy="73.77" r="0.55" fill="#3050c8" opacity="0.5"/><circle cx="278.14" cy="73.00" r="0.55" fill="#3050c8" opacity="0.5"/>
<circle cx="276.95" cy="67.15" r="0.55" fill="#4a78e4" opacity="0.5"/><circle cx="278.27" cy="66.77" r="0.55" fill="#4a78e4" opacity="0.5"/><circle cx="274.63" cy="66.04" r="0.55" fill="#4a78e4" opacity="0.5"/><circle cx="275.47" cy="67.56" r="0.55" fill="#4a78e4" opacity="0.5"/><circle cx="274.81" cy="66.98" r="0.55" fill="#4a78e4" opacity="0.5"/><circle cx="277.24" cy="65.04" r="0.55" fill="#4a78e4" opacity="0.5"/>
<ellipse cx="290.2" cy="73.5" rx="3.0" ry="4.6" transform="rotate(0 290.2 73.5)" fill="#4a78e4" opacity="0.9" filter="url(#bl)"/>
<ellipse cx="290.3" cy="74.2" rx="1.8" ry="3.2" transform="rotate(0 290.3 74.2)" fill="#3cae64" opacity="1.0" filter="url(#bl)"/>
<circle cx="287.62" cy="72.74" r="0.55" fill="#3050c8" opacity="0.4"/><circle cx="290.96" cy="72.82" r="0.55" fill="#3050c8" opacity="0.4"/><circle cx="289.01" cy="74.15" r="0.55" fill="#3050c8" opacity="0.4"/><circle cx="290.67" cy="70.23" r="0.55" fill="#3050c8" opacity="0.4"/><circle cx="293.38" cy="72.71" r="0.55" fill="#3050c8" opacity="0.4"/><circle cx="288.68" cy="71.66" r="0.55" fill="#3050c8" opacity="0.4"/><circle cx="289.45" cy="71.78" r="0.55" fill="#3050c8" opacity="0.4"/><circle cx="286.59" cy="71.13" r="0.55" fill="#3050c8" opacity="0.4"/>
<ellipse cx="343.8" cy="59.8" rx="2.8" ry="4.3" transform="rotate(0 343.8 59.8)" fill="#3050c8" opacity="0.9" filter="url(#bl)"/>
<ellipse cx="343.8" cy="60.2" rx="1.5" ry="2.4" transform="rotate(0 343.8 60.2)" fill="#38b8d0" opacity="1.0" filter="url(#bl)"/>
<ellipse cx="343.8" cy="73" rx="3.2" ry="7.0" transform="rotate(0 343.8 73)" fill="#4a78e4" opacity="0.85" filter="url(#bl)"/>
<ellipse cx="343.8" cy="72.3" rx="2.0" ry="3.0" transform="rotate(0 343.8 72.3)" fill="#3cae64" opacity="1.0" filter="url(#bl)"/>
<circle cx="345.98" cy="66.95" r="0.55" fill="#3050c8" opacity="0.45"/><circle cx="343.63" cy="76.83" r="0.55" fill="#3050c8" opacity="0.45"/><circle cx="345.55" cy="78.10" r="0.55" fill="#3050c8" opacity="0.45"/><circle cx="340.34" cy="70.56" r="0.55" fill="#3050c8" opacity="0.45"/><circle cx="342.89" cy="75.31" r="0.55" fill="#3050c8" opacity="0.45"/><circle cx="345.30" cy="64.65" r="0.55" fill="#3050c8" opacity="0.45"/><circle cx="345.96" cy="66.26" r="0.55" fill="#3050c8" opacity="0.45"/><circle cx="345.23" cy="65.74" r="0.55" fill="#3050c8" opacity="0.45"/><circle cx="344.22" cy="77.69" r="0.55" fill="#3050c8" opacity="0.45"/><circle cx="343.38" cy="73.07" r="0.55" fill="#3050c8" opacity="0.45"/><circle cx="345.88" cy="72.74" r="0.55" fill="#3050c8" opacity="0.45"/><circle cx="343.61" cy="78.65" r="0.55" fill="#3050c8" opacity="0.45"/><circle cx="346.38" cy="70.56" r="0.55" fill="#3050c8" opacity="0.45"/><circle cx="347.47" cy="68.93" r="0.55" fill="#3050c8" opacity="0.45"/>
<ellipse cx="402.7" cy="60.3" rx="3.5" ry="4.3" transform="rotate(0 402.7 60.3)" fill="#4a78e4" opacity="0.9" filter="url(#bl)"/>
<circle cx="405.02" cy="59.54" r="0.55" fill="#3050c8" opacity="0.5"/><circle cx="403.05" cy="62.41" r="0.55" fill="#3050c8" opacity="0.5"/><circle cx="403.29" cy="62.22" r="0.55" fill="#3050c8" opacity="0.5"/><circle cx="400.00" cy="57.30" r="0.55" fill="#3050c8" opacity="0.5"/><circle cx="404.19" cy="57.67" r="0.55" fill="#3050c8" opacity="0.5"/><circle cx="400.65" cy="57.00" r="0.55" fill="#3050c8" opacity="0.5"/><circle cx="405.50" cy="62.16" r="0.55" fill="#3050c8" opacity="0.5"/><circle cx="405.68" cy="58.16" r="0.55" fill="#3050c8" opacity="0.5"/><circle cx="402.70" cy="57.19" r="0.55" fill="#3050c8" opacity="0.5"/><circle cx="404.24" cy="63.90" r="0.55" fill="#3050c8" opacity="0.5"/>
<circle cx="400.53" cy="75.83" r="0.45" fill="#4a78e4" opacity="0.45"/><circle cx="404.78" cy="73.17" r="0.45" fill="#4a78e4" opacity="0.45"/><circle cx="399.13" cy="75.20" r="0.45" fill="#4a78e4" opacity="0.45"/><circle cx="402.04" cy="72.28" r="0.45" fill="#4a78e4" opacity="0.45"/><circle cx="403.39" cy="74.34" r="0.45" fill="#4a78e4" opacity="0.45"/><circle cx="405.27" cy="71.98" r="0.45" fill="#4a78e4" opacity="0.45"/><circle cx="404.51" cy="75.67" r="0.45" fill="#4a78e4" opacity="0.45"/><circle cx="405.52" cy="73.20" r="0.45" fill="#4a78e4" opacity="0.45"/><circle cx="400.55" cy="75.29" r="0.45" fill="#4a78e4" opacity="0.45"/><circle cx="402.62" cy="73.76" r="0.45" fill="#4a78e4" opacity="0.45"/><circle cx="405.47" cy="73.06" r="0.45" fill="#4a78e4" opacity="0.45"/><circle cx="398.49" cy="73.02" r="0.45" fill="#4a78e4" opacity="0.45"/><circle cx="398.88" cy="74.63" r="0.45" fill="#4a78e4" opacity="0.45"/><circle cx="403.15" cy="72.28" r="0.45" fill="#4a78e4" opacity="0.45"/>
<ellipse cx="417.9" cy="75" rx="2.8" ry="3.8" transform="rotate(0 417.9 75)" fill="#4a78e4" opacity="0.85" filter="url(#bl)"/>
<ellipse cx="417.9" cy="75.3" rx="1.7" ry="2.6" transform="rotate(0 417.9 75.3)" fill="#3cae64" opacity="1.0" filter="url(#bl)"/>
<path d="M235.0,55.449999999999996 L245.7,55.449999999999996 L242.5,52.4 L243.5,51.199999999999996 L253.6,56.9 L243.5,62.6 L242.5,61.4 L245.7,58.35 L235.0,58.35 Z" fill="#1a1ad0"/>
<path d="M363.9,57.25 L375.1,57.25 L371.9,54.800000000000004 L372.9,53.6 L382.9,58.6 L372.9,63.6 L371.9,62.4 L375.1,59.95 L363.9,59.95 Z" fill="#e8185a"/>
<rect x="458.4" y="46.6" width="8" height="7" fill="#2a50f0" stroke="#181840" stroke-width="0.9"/>
<rect x="458.4" y="61.1" width="8" height="7" fill="#e02050" stroke="#401018" stroke-width="0.9"/>
<text x="469.8" y="53.5" font-family='"Liberation Sans", sans-serif' font-weight="bold" font-size="8.3" fill="#141438" stroke="#141438" stroke-width="0.15">Healthy</text>
<text x="469.8" y="68" font-family='"Liberation Sans", sans-serif' font-weight="bold" font-size="8.3" fill="#c81e50" stroke="#c81e50" stroke-width="0.15">MS</text>
<g>
<path d="M226.60,175.36 227.00,175.33 227.40,175.30 227.80,175.24 228.20,175.16 228.60,175.04 229.00,174.86 229.40,174.63 229.80,174.31 230.20,173.87 230.60,173.30 231.00,172.56 231.40,171.60 231.80,170.38 232.20,168.82 232.60,166.84 233.00,164.34 233.40,161.22 233.80,157.39 234.20,152.79 234.60,147.44 235.00,141.50 235.40,135.24 235.80,129.11 236.20,123.61 236.60,119.32 237.00,116.70 237.40,116.07 237.80,117.48 238.20,120.77 238.60,125.54 239.00,131.26 239.40,137.40 239.80,143.47 240.20,149.11 240.60,154.11 241.00,158.37 241.40,161.90 241.80,164.79 242.20,167.11 242.60,168.98 243.00,170.47 243.40,171.65 243.80,172.59 244.20,173.32 244.60,173.88 245.00,174.31 245.40,174.63 245.80,174.87 246.20,175.04 246.60,175.16 247.00,175.24 247.40,175.30 247.80,175.33 248.20,175.36 L248.20,175.4 L226.60,175.4 Z" fill="#d0d2f6"/>
<path d="M236.10,175.36 236.50,175.33 236.90,175.29 237.30,175.23 237.70,175.15 238.10,175.02 238.50,174.85 238.90,174.60 239.30,174.27 239.70,173.83 240.10,173.26 240.50,172.53 240.90,171.62 241.30,170.50 241.70,169.15 242.10,167.55 242.50,165.66 242.90,163.44 243.30,160.80 243.70,157.64 244.10,153.82 244.50,149.23 244.90,143.84 245.30,137.81 245.70,131.53 246.10,125.65 246.50,120.97 246.90,118.23 247.30,117.95 247.70,120.23 248.10,124.70 248.50,130.69 248.90,137.35 249.30,143.93 249.70,149.90 250.10,154.99 250.50,159.16 250.90,162.50 251.30,165.17 251.70,167.31 252.10,169.04 252.50,170.45 252.90,171.60 253.30,172.53 253.70,173.26 254.10,173.83 254.50,174.27 254.90,174.60 255.30,174.85 255.70,175.02 256.10,175.15 256.50,175.23 256.90,175.29 257.30,175.33 257.70,175.36 L257.70,175.4 L236.10,175.4 Z" fill="#f2c2e0"/>
<path d="M236.10,175.36 236.50,175.33 236.90,175.29 237.30,175.23 237.70,175.15 238.10,175.02 238.50,174.85 238.90,174.60 239.30,174.27 239.70,173.83 240.10,173.26 240.50,172.53 240.90,171.62 241.30,170.50 241.70,169.15 242.10,167.55 242.50,168.51 242.90,170.10 243.30,171.36 243.70,172.35 244.10,173.13 244.50,173.74 244.90,174.20 245.30,174.55 245.70,174.81 246.10,174.99 246.50,175.13 246.90,175.22 247.30,175.28 247.70,175.32 248.10,175.35 L248.10,175.4 L236.10,175.4 Z" fill="#c4a4f2"/>
<path d="M207.30,117.30 207.43,117.11 207.60,116.82 207.81,116.49 208.03,116.17 208.27,115.92 208.50,115.80 208.74,115.74 209.00,115.69 209.26,115.71 209.53,115.86 209.78,116.20 210.00,116.80 210.20,117.84 210.37,119.30 210.53,120.96 210.69,122.58 210.84,123.94 211.00,124.80 211.17,125.04 211.33,124.80 211.50,124.30 211.67,123.74 211.83,123.34 212.00,123.30 212.16,123.54 212.30,123.87 212.44,124.36 212.59,125.06 212.78,126.02 213.00,127.30 213.28,129.01 213.59,131.13 213.94,133.52 214.30,136.02 214.66,138.50 215.00,140.80 215.33,142.99 215.67,145.19 216.00,147.36 216.33,149.47 216.67,151.46 217.00,153.30 217.34,155.06 217.70,156.80 218.06,158.43 218.41,159.86 218.72,161.01 219.00,161.80 219.22,162.08 219.41,161.87 219.56,161.39 219.70,160.84 219.84,160.41 220.00,160.30 220.17,160.52 220.33,160.89 220.50,161.39 220.67,161.99 220.83,162.63 221.00,163.30 221.16,164.00 221.30,164.76 221.44,165.58 221.59,166.45 221.78,167.36 222.00,168.30 222.28,169.36 222.59,170.56 222.94,171.80 223.30,172.99 223.66,174.02 224.00,174.80 224.36,175.30 224.74,175.58 225.12,175.71 225.48,175.74 225.78,175.75 226.00,175.80" fill="none" stroke="#c890b8" stroke-width="0.9" stroke-dasharray="0.9,0.7"/>
<path d="M206.30,117.00 206.43,116.81 206.60,116.52 206.81,116.19 207.03,115.87 207.27,115.62 207.50,115.50 207.74,115.44 208.00,115.39 208.26,115.41 208.53,115.56 208.78,115.90 209.00,116.50 209.20,117.54 209.37,119.00 209.53,120.66 209.69,122.28 209.84,123.64 210.00,124.50 210.17,124.74 210.33,124.50 210.50,124.00 210.67,123.44 210.83,123.04 211.00,123.00 211.16,123.24 211.30,123.57 211.44,124.06 211.59,124.76 211.78,125.72 212.00,127.00 212.28,128.71 212.59,130.83 212.94,133.22 213.30,135.72 213.66,138.20 214.00,140.50 214.33,142.69 214.67,144.89 215.00,147.06 215.33,149.17 215.67,151.16 216.00,153.00 216.34,154.76 216.70,156.50 217.06,158.12 217.41,159.56 217.72,160.71 218.00,161.50 218.22,161.78 218.41,161.57 218.56,161.09 218.70,160.54 218.84,160.11 219.00,160.00 219.17,160.22 219.33,160.59 219.50,161.09 219.67,161.69 219.83,162.33 220.00,163.00 220.16,163.70 220.30,164.46 220.44,165.28 220.59,166.15 220.78,167.06 221.00,168.00 221.28,169.06 221.59,170.26 221.94,171.50 222.30,172.69 222.66,173.72 223.00,174.50 223.36,175.00 223.74,175.28 224.12,175.41 224.48,175.44 224.78,175.45 225.00,175.50" fill="none" stroke="#6a5a90" stroke-width="1.0" stroke-dasharray="0.9,0.6"/>
<path d="M236.10,175.36 236.50,175.33 236.90,175.29 237.30,175.23 237.70,175.15 238.10,175.02 238.50,174.85 238.90,174.60 239.30,174.27 239.70,173.83 240.10,173.26 240.50,172.53 240.90,171.62 241.30,170.50 241.70,169.15 242.10,167.55 242.50,165.66 242.90,163.44 243.30,160.80 243.70,157.64 244.10,153.82 244.50,149.23 244.90,143.84 245.30,137.81 245.70,131.53 246.10,125.65 246.50,120.97 246.90,118.23 247.30,117.95 247.70,120.23 248.10,124.70 248.50,130.69 248.90,137.35 249.30,143.93 249.70,149.90 250.10,154.99 250.50,159.16 250.90,162.50 251.30,165.17 251.70,167.31 252.10,169.04 252.50,170.45 252.90,171.60 253.30,172.53 253.70,173.26 254.10,173.83 254.50,174.27 254.90,174.60 255.30,174.85 255.70,175.02 256.10,175.15 256.50,175.23 256.90,175.29 257.30,175.33 257.70,175.36" fill="none" stroke="#a8305e" stroke-width="1.05"/>
<path d="M226.60,175.36 227.00,175.33 227.40,175.30 227.80,175.24 228.20,175.16 228.60,175.04 229.00,174.86 229.40,174.63 229.80,174.31 230.20,173.87 230.60,173.30 231.00,172.56 231.40,171.60 231.80,170.38 232.20,168.82 232.60,166.84 233.00,164.34 233.40,161.22 233.80,157.39 234.20,152.79 234.60,147.44 235.00,141.50 235.40,135.24 235.80,129.11 236.20,123.61 236.60,119.32 237.00,116.70 237.40,116.07 237.80,117.48 238.20,120.77 238.60,125.54 239.00,131.26 239.40,137.40 239.80,143.47 240.20,149.11 240.60,154.11 241.00,158.37 241.40,161.90 241.80,164.79 242.20,167.11 242.60,168.98 243.00,170.47 243.40,171.65 243.80,172.59 244.20,173.32 244.60,173.88 245.00,174.31 245.40,174.63 245.80,174.87 246.20,175.04 246.60,175.16 247.00,175.24 247.40,175.30 247.80,175.33 248.20,175.36" fill="none" stroke="#242058" stroke-width="1.1"/>
<path d="M206.4,110.5 L271.5,110.5 L271.5,175.4 L206.4,175.4 Z" fill="none" stroke="#111" stroke-width="0.9"/>
<line x1="205.20000000000002" y1="175.40" x2="206.4" y2="175.40" stroke="#111" stroke-width="0.5"/>
<text x="204.4" y="177.20" text-anchor="end" font-family='"Liberation Serif", serif' font-weight="bold" font-size="5.2">0</text>
<line x1="205.20000000000002" y1="162.42" x2="206.4" y2="162.42" stroke="#111" stroke-width="0.5"/>
<text x="204.4" y="164.22" text-anchor="end" font-family='"Liberation Serif", serif' font-weight="bold" font-size="5.2">20</text>
<line x1="205.20000000000002" y1="149.44" x2="206.4" y2="149.44" stroke="#111" stroke-width="0.5"/>
<text x="204.4" y="151.24" text-anchor="end" font-family='"Liberation Serif", serif' font-weight="bold" font-size="5.2">40</text>
<line x1="205.20000000000002" y1="136.46" x2="206.4" y2="136.46" stroke="#111" stroke-width="0.5"/>
<text x="204.4" y="138.26" text-anchor="end" font-family='"Liberation Serif", serif' font-weight="bold" font-size="5.2">60</text>
<line x1="205.20000000000002" y1="123.48" x2="206.4" y2="123.48" stroke="#111" stroke-width="0.5"/>
<text x="204.4" y="125.28" text-anchor="end" font-family='"Liberation Serif", serif' font-weight="bold" font-size="5.2">80</text>
<line x1="205.20000000000002" y1="110.50" x2="206.4" y2="110.50" stroke="#111" stroke-width="0.5"/>
<text x="204.4" y="112.30" text-anchor="end" font-family='"Liberation Serif", serif' font-weight="bold" font-size="5.2">100</text>
<line x1="206.50" y1="175.4" x2="206.50" y2="176.6" stroke="#111" stroke-width="0.5"/>
<text x="206.50" y="182.00" text-anchor="middle" font-family='"Liberation Serif", serif' font-weight="bold" font-size="5.2">1</text>
<line x1="222.40" y1="175.4" x2="222.40" y2="176.6" stroke="#111" stroke-width="0.5"/>
<text x="222.40" y="182.00" text-anchor="middle" font-family='"Liberation Serif", serif' font-weight="bold" font-size="5.2">10</text>
<line x1="238.30" y1="175.4" x2="238.30" y2="176.6" stroke="#111" stroke-width="0.5"/>
<text x="235.70" y="182.00" font-family='"Liberation Serif", serif' font-weight="bold" font-size="5.2">10<tspan dy="-2" font-size="3.9">2</tspan></text>
<line x1="254.20" y1="175.4" x2="254.20" y2="176.6" stroke="#111" stroke-width="0.5"/>
<text x="251.60" y="182.00" font-family='"Liberation Serif", serif' font-weight="bold" font-size="5.2">10<tspan dy="-2" font-size="3.9">3</tspan></text>
<line x1="270.10" y1="175.4" x2="270.10" y2="176.6" stroke="#111" stroke-width="0.5"/>
<text x="267.50" y="182.00" font-family='"Liberation Serif", serif' font-weight="bold" font-size="5.2">10<tspan dy="-2" font-size="3.9">4</tspan></text>
<path d="M287.30,171.00 287.61,170.80 288.06,170.54 288.59,170.22 289.13,169.85 289.62,169.44 290.00,169.00 290.24,168.55 290.39,168.09 290.50,167.59 290.60,167.02 290.75,166.33 291.00,165.50 291.36,164.50 291.80,163.34 292.28,162.08 292.79,160.74 293.29,159.37 293.75,158.00 294.18,156.61 294.60,155.18 295.02,153.70 295.43,152.21 295.84,150.72 296.25,149.25 296.68,147.78 297.13,146.29 297.58,144.80 298.01,143.32 298.41,141.89 298.75,140.50 299.02,139.06 299.21,137.54 299.38,136.05 299.54,134.71 299.73,133.66 300.00,133.00 300.35,133.00 300.76,133.60 301.20,134.48 301.66,135.31 302.10,135.76 302.50,135.50 302.87,134.16 303.21,131.94 303.55,129.33 303.87,126.84 304.19,124.98 304.50,124.25 304.80,124.84 305.07,126.38 305.34,128.55 305.62,131.01 305.92,133.44 306.25,135.50 306.64,137.27 307.07,139.02 307.53,140.73 307.98,142.40 308.40,143.99 308.75,145.50 309.02,146.92 309.21,148.28 309.38,149.56 309.54,150.78 309.73,151.92 310.00,153.00 310.34,154.08 310.74,155.18 311.17,156.20 311.62,157.07 312.07,157.70 312.50,158.00 312.92,157.81 313.33,157.17 313.75,156.28 314.17,155.36 314.58,154.61 315.00,154.25 315.42,154.36 315.83,154.81 316.25,155.42 316.67,156.06 317.08,156.55 317.50,156.75 317.92,156.54 318.33,156.01 318.75,155.34 319.17,154.71 319.58,154.29 320.00,154.25 320.42,154.69 320.83,155.50 321.25,156.52 321.67,157.58 322.08,158.55 322.50,159.25 322.93,159.75 323.38,160.18 323.83,160.50 324.26,160.69 324.66,160.70 325.00,160.50 325.28,159.98 325.51,159.16 325.70,158.16 325.88,157.12 326.06,156.19 326.25,155.50 326.46,155.09 326.67,154.85 326.88,154.72 327.08,154.62 327.29,154.49 327.50,154.25 327.71,153.91 327.92,153.51 328.12,153.08 328.33,152.63 328.54,152.18 328.75,151.75 328.96,151.32 329.17,150.87 329.38,150.42 329.58,149.99 329.79,149.59 330.00,149.25 330.21,148.97 330.42,148.74 330.62,148.55 330.83,148.37 331.04,148.19 331.25,148.00 331.46,147.68 331.67,147.21 331.88,146.75 332.08,146.43 332.29,146.38 332.50,146.75 332.71,147.70 332.92,149.16 333.12,150.89 333.33,152.68 333.54,154.29 333.75,155.50 333.94,156.26 334.12,156.75 334.30,157.06 334.49,157.31 334.72,157.58 335.00,158.00 335.36,158.48 335.79,158.93 336.25,159.41 336.71,159.99 337.14,160.75 337.50,161.75 337.78,163.14 338.01,164.90 338.20,166.83 338.38,168.74 338.56,170.45 338.75,171.75 338.96,172.62 339.17,173.19 339.38,173.55 339.58,173.79 339.79,173.99 340.00,174.25 340.22,174.55 340.46,174.81 340.70,175.03 340.93,175.22 341.11,175.38 341.25,175.40 L341.25,175.4 L287.30,175.4 Z" fill="#d0d2f6"/>
<path d="M287.30,174.00 287.59,173.79 287.99,173.52 288.46,173.19 288.98,172.81 289.50,172.41 290.00,172.00 290.48,171.59 290.98,171.19 291.48,170.75 291.99,170.26 292.50,169.69 293.00,169.00 293.50,168.25 294.00,167.48 294.50,166.62 295.00,165.63 295.50,164.44 296.00,163.00 296.51,161.23 297.02,159.15 297.53,156.88 298.04,154.52 298.53,152.19 299.00,150.00 299.46,147.90 299.91,145.78 300.34,143.69 300.76,141.67 301.15,139.76 301.50,138.00 301.81,136.38 302.09,134.86 302.34,133.45 302.57,132.17 302.79,131.01 303.00,130.00 303.19,129.11 303.35,128.32 303.50,127.67 303.65,127.18 303.81,126.86 304.00,126.75 304.22,126.84 304.46,127.10 304.72,127.55 304.98,128.18 305.24,128.99 305.50,130.00 305.75,131.28 306.00,132.83 306.25,134.58 306.50,136.42 306.75,138.26 307.00,140.00 307.25,141.69 307.50,143.41 307.75,145.12 308.00,146.81 308.25,148.45 308.50,150.00 308.75,151.46 309.00,152.85 309.25,154.19 309.50,155.48 309.75,156.75 310.00,158.00 310.25,159.24 310.50,160.44 310.75,161.62 311.00,162.78 311.25,163.90 311.50,165.00 311.73,166.10 311.94,167.22 312.16,168.31 312.39,169.33 312.66,170.24 313.00,171.00 313.40,171.59 313.85,172.06 314.34,172.41 314.87,172.67 315.42,172.86 316.00,173.00 316.60,173.08 317.22,173.07 317.88,173.00 318.56,172.87 319.26,172.70 320.00,172.50 320.78,172.24 321.59,171.89 322.44,171.50 323.30,171.11 324.16,170.76 325.00,170.50 325.83,170.32 326.67,170.19 327.50,170.09 328.33,170.04 329.17,170.01 330.00,170.00 330.86,170.00 331.74,170.02 332.62,170.06 333.48,170.15 334.28,170.29 335.00,170.50 335.63,170.80 336.19,171.19 336.69,171.62 337.15,172.09 337.58,172.56 338.00,173.00 338.41,173.45 338.81,173.93 339.19,174.41 339.52,174.85 339.79,175.23 340.00,175.40 L340.00,175.4 L287.30,175.4 Z" fill="#f2c2e0"/>
<path d="M287.30,174.00 287.70,173.72 288.10,173.44 288.50,173.16 288.90,172.87 289.30,172.57 289.70,172.25 290.10,171.92 290.50,171.58 290.90,171.25 291.30,170.91 291.70,170.54 292.10,170.13 292.50,169.68 292.90,169.14 293.30,168.55 293.70,167.95 294.10,167.31 294.50,166.63 294.90,165.83 295.30,164.92 295.70,163.86 296.10,162.65 296.50,161.25 296.90,159.63 297.30,157.90 297.70,156.09 298.10,154.22 298.50,152.33 298.90,150.46 299.30,148.62 299.70,146.75 300.10,144.86 300.50,142.93 300.90,140.97 301.30,139.00 301.70,136.97 302.10,135.76 302.50,135.50 302.90,133.94 303.30,131.26 303.70,128.15 304.10,126.79 304.50,127.17 304.90,127.98 305.30,129.21 305.70,131.66 306.10,134.57 306.50,136.64 306.90,139.30 307.30,142.03 307.70,144.78 308.10,147.47 308.50,150.00 308.90,152.30 309.30,154.45 309.70,156.49 310.10,158.49 310.50,160.44 310.90,162.32 311.30,164.12 311.70,165.95 312.10,168.02 312.50,169.70 312.90,170.78 313.30,171.44 313.70,171.90 314.10,172.23 314.50,172.48 314.90,172.68 315.30,172.81 315.70,172.93 316.10,173.01 316.50,173.07 316.90,173.08 317.30,173.07 317.70,173.02 318.10,172.96 318.50,172.88 318.90,172.79 319.30,172.69 319.70,172.58 320.10,172.47 320.50,172.33 320.90,172.18 321.30,172.01 321.70,171.84 322.10,171.66 322.50,171.47 322.90,171.29 323.30,171.11 323.70,170.95 324.10,170.79 324.50,170.66 324.90,170.53 325.30,170.43 325.70,170.35 326.10,170.28 326.50,170.21 326.90,170.16 327.30,170.12 327.70,170.08 328.10,170.05 328.50,170.03 328.90,170.02 329.30,170.01 329.70,170.00 330.10,170.00 330.50,170.00 330.90,170.00 331.30,170.01 331.70,170.02 332.10,170.04 332.50,170.06 332.90,170.09 333.30,170.13 333.70,170.19 334.10,170.26 334.50,170.35 334.90,170.47 335.30,170.64 335.70,170.85 336.10,171.13 336.50,171.46 336.90,171.84 337.30,172.26 337.70,172.69 338.10,173.11 338.50,173.55 338.90,174.04 339.30,174.56 339.70,175.10 L339.70,175.4 L287.30,175.4 Z" fill="#c4a4f2"/>
<path d="M287.60,111.00 287.62,112.45 287.65,114.41 287.68,116.75 287.72,119.37 287.76,122.16 287.80,125.00 287.84,128.02 287.88,131.33 287.92,134.81 287.97,138.33 288.03,141.77 288.10,145.00 288.19,148.09 288.30,151.15 288.42,154.12 288.54,156.96 288.67,159.61 288.80,162.00 288.94,164.19 289.09,166.22 289.24,168.06 289.39,169.67 289.51,170.99 289.60,172.00" fill="none" stroke="#c8359a" stroke-width="1.9" stroke-dasharray="1.1,0.5"/>
<path d="M291.80,175.40 291.82,173.73 291.84,171.43 291.88,168.70 291.91,165.75 291.95,162.78 292.00,160.00 292.06,157.37 292.12,154.71 292.19,152.04 292.26,149.36 292.33,146.67 292.40,144.00 292.47,141.26 292.53,138.44 292.59,135.62 292.66,132.89 292.73,130.32 292.80,128.00 292.88,125.90 292.95,123.95 293.03,122.16 293.11,120.56 293.20,119.17 293.30,118.00 293.40,117.10 293.51,116.45 293.62,116.01 293.74,115.72 293.86,115.53 294.00,115.40 294.15,115.33 294.31,115.37 294.48,115.51 294.66,115.74 294.83,116.08 295.00,116.50 295.17,117.00 295.33,117.58 295.50,118.26 295.67,119.04 295.83,119.95 296.00,121.00 296.17,122.20 296.34,123.56 296.52,125.03 296.69,126.61 296.85,128.27 297.00,130.00 297.13,131.81 297.23,133.74 297.33,135.75 297.43,137.81 297.55,139.91 297.70,142.00 297.88,144.13 298.09,146.33 298.31,148.56 298.54,150.78 298.78,152.94 299.00,155.00 299.22,156.97 299.44,158.87 299.67,160.72 299.89,162.53 300.10,164.28 300.30,166.00 300.50,167.77 300.69,169.60 300.88,171.39 301.05,173.02 301.19,174.40 301.30,175.40" fill="none" stroke="#4a1a4a" stroke-width="1.5" stroke-dasharray="1.0,0.5"/>
<path d="M287.30,174.00 287.59,173.79 287.99,173.52 288.46,173.19 288.98,172.81 289.50,172.41 290.00,172.00 290.48,171.59 290.98,171.19 291.48,170.75 291.99,170.26 292.50,169.69 293.00,169.00 293.50,168.25 294.00,167.48 294.50,166.62 295.00,165.63 295.50,164.44 296.00,163.00 296.51,161.23 297.02,159.15 297.53,156.88 298.04,154.52 298.53,152.19 299.00,150.00 299.46,147.90 299.91,145.78 300.34,143.69 300.76,141.67 301.15,139.76 301.50,138.00 301.81,136.38 302.09,134.86 302.34,133.45 302.57,132.17 302.79,131.01 303.00,130.00 303.19,129.11 303.35,128.32 303.50,127.67 303.65,127.18 303.81,126.86 304.00,126.75 304.22,126.84 304.46,127.10 304.72,127.55 304.98,128.18 305.24,128.99 305.50,130.00 305.75,131.28 306.00,132.83 306.25,134.58 306.50,136.42 306.75,138.26 307.00,140.00 307.25,141.69 307.50,143.41 307.75,145.12 308.00,146.81 308.25,148.45 308.50,150.00 308.75,151.46 309.00,152.85 309.25,154.19 309.50,155.48 309.75,156.75 310.00,158.00 310.25,159.24 310.50,160.44 310.75,161.62 311.00,162.78 311.25,163.90 311.50,165.00 311.73,166.10 311.94,167.22 312.16,168.31 312.39,169.33 312.66,170.24 313.00,171.00 313.40,171.59 313.85,172.06 314.34,172.41 314.87,172.67 315.42,172.86 316.00,173.00 316.60,173.08 317.22,173.07 317.88,173.00 318.56,172.87 319.26,172.70 320.00,172.50 320.78,172.24 321.59,171.89 322.44,171.50 323.30,171.11 324.16,170.76 325.00,170.50 325.83,170.32 326.67,170.19 327.50,170.09 328.33,170.04 329.17,170.01 330.00,170.00 330.86,170.00 331.74,170.02 332.62,170.06 333.48,170.15 334.28,170.29 335.00,170.50 335.63,170.80 336.19,171.19 336.69,171.62 337.15,172.09 337.58,172.56 338.00,173.00 338.41,173.45 338.81,173.93 339.19,174.41 339.52,174.85 339.79,175.23 340.00,175.40" fill="none" stroke="#a8305e" stroke-width="1.05"/>
<path d="M287.30,171.00 287.61,170.80 288.06,170.54 288.59,170.22 289.13,169.85 289.62,169.44 290.00,169.00 290.24,168.55 290.39,168.09 290.50,167.59 290.60,167.02 290.75,166.33 291.00,165.50 291.36,164.50 291.80,163.34 292.28,162.08 292.79,160.74 293.29,159.37 293.75,158.00 294.18,156.61 294.60,155.18 295.02,153.70 295.43,152.21 295.84,150.72 296.25,149.25 296.68,147.78 297.13,146.29 297.58,144.80 298.01,143.32 298.41,141.89 298.75,140.50 299.02,139.06 299.21,137.54 299.38,136.05 299.54,134.71 299.73,133.66 300.00,133.00 300.35,133.00 300.76,133.60 301.20,134.48 301.66,135.31 302.10,135.76 302.50,135.50 302.87,134.16 303.21,131.94 303.55,129.33 303.87,126.84 304.19,124.98 304.50,124.25 304.80,124.84 305.07,126.38 305.34,128.55 305.62,131.01 305.92,133.44 306.25,135.50 306.64,137.27 307.07,139.02 307.53,140.73 307.98,142.40 308.40,143.99 308.75,145.50 309.02,146.92 309.21,148.28 309.38,149.56 309.54,150.78 309.73,151.92 310.00,153.00 310.34,154.08 310.74,155.18 311.17,156.20 311.62,157.07 312.07,157.70 312.50,158.00 312.92,157.81 313.33,157.17 313.75,156.28 314.17,155.36 314.58,154.61 315.00,154.25 315.42,154.36 315.83,154.81 316.25,155.42 316.67,156.06 317.08,156.55 317.50,156.75 317.92,156.54 318.33,156.01 318.75,155.34 319.17,154.71 319.58,154.29 320.00,154.25 320.42,154.69 320.83,155.50 321.25,156.52 321.67,157.58 322.08,158.55 322.50,159.25 322.93,159.75 323.38,160.18 323.83,160.50 324.26,160.69 324.66,160.70 325.00,160.50 325.28,159.98 325.51,159.16 325.70,158.16 325.88,157.12 326.06,156.19 326.25,155.50 326.46,155.09 326.67,154.85 326.88,154.72 327.08,154.62 327.29,154.49 327.50,154.25 327.71,153.91 327.92,153.51 328.12,153.08 328.33,152.63 328.54,152.18 328.75,151.75 328.96,151.32 329.17,150.87 329.38,150.42 329.58,149.99 329.79,149.59 330.00,149.25 330.21,148.97 330.42,148.74 330.62,148.55 330.83,148.37 331.04,148.19 331.25,148.00 331.46,147.68 331.67,147.21 331.88,146.75 332.08,146.43 332.29,146.38 332.50,146.75 332.71,147.70 332.92,149.16 333.12,150.89 333.33,152.68 333.54,154.29 333.75,155.50 333.94,156.26 334.12,156.75 334.30,157.06 334.49,157.31 334.72,157.58 335.00,158.00 335.36,158.48 335.79,158.93 336.25,159.41 336.71,159.99 337.14,160.75 337.50,161.75 337.78,163.14 338.01,164.90 338.20,166.83 338.38,168.74 338.56,170.45 338.75,171.75 338.96,172.62 339.17,173.19 339.38,173.55 339.58,173.79 339.79,173.99 340.00,174.25 340.22,174.55 340.46,174.81 340.70,175.03 340.93,175.22 341.11,175.38 341.25,175.40" fill="none" stroke="#242058" stroke-width="1.1"/>
<path d="M286.8,110.5 L351.9,110.5 L351.9,175.4 L286.8,175.4 Z" fill="none" stroke="#111" stroke-width="0.9"/>
<line x1="285.6" y1="175.40" x2="286.8" y2="175.40" stroke="#111" stroke-width="0.5"/>
<text x="284.8" y="177.20" text-anchor="end" font-family='"Liberation Serif", serif' font-weight="bold" font-size="5.2">0</text>
<line x1="285.6" y1="162.42" x2="286.8" y2="162.42" stroke="#111" stroke-width="0.5"/>
<text x="284.8" y="164.22" text-anchor="end" font-family='"Liberation Serif", serif' font-weight="bold" font-size="5.2">20</text>
<line x1="285.6" y1="149.44" x2="286.8" y2="149.44" stroke="#111" stroke-width="0.5"/>
<text x="284.8" y="151.24" text-anchor="end" font-family='"Liberation Serif", serif' font-weight="bold" font-size="5.2">40</text>
<line x1="285.6" y1="136.46" x2="286.8" y2="136.46" stroke="#111" stroke-width="0.5"/>
<text x="284.8" y="138.26" text-anchor="end" font-family='"Liberation Serif", serif' font-weight="bold" font-size="5.2">60</text>
<line x1="285.6" y1="123.48" x2="286.8" y2="123.48" stroke="#111" stroke-width="0.5"/>
<text x="284.8" y="125.28" text-anchor="end" font-family='"Liberation Serif", serif' font-weight="bold" font-size="5.2">80</text>
<line x1="285.6" y1="110.50" x2="286.8" y2="110.50" stroke="#111" stroke-width="0.5"/>
<text x="284.8" y="112.30" text-anchor="end" font-family='"Liberation Serif", serif' font-weight="bold" font-size="5.2">100</text>
<line x1="286.90" y1="175.4" x2="286.90" y2="176.6" stroke="#111" stroke-width="0.5"/>
<text x="286.90" y="182.00" text-anchor="middle" font-family='"Liberation Serif", serif' font-weight="bold" font-size="5.2">1</text>
<line x1="302.80" y1="175.4" x2="302.80" y2="176.6" stroke="#111" stroke-width="0.5"/>
<text x="302.80" y="182.00" text-anchor="middle" font-family='"Liberation Serif", serif' font-weight="bold" font-size="5.2">10</text>
<line x1="318.70" y1="175.4" x2="318.70" y2="176.6" stroke="#111" stroke-width="0.5"/>
<text x="316.10" y="182.00" font-family='"Liberation Serif", serif' font-weight="bold" font-size="5.2">10<tspan dy="-2" font-size="3.9">2</tspan></text>
<line x1="334.60" y1="175.4" x2="334.60" y2="176.6" stroke="#111" stroke-width="0.5"/>
<text x="332.00" y="182.00" font-family='"Liberation Serif", serif' font-weight="bold" font-size="5.2">10<tspan dy="-2" font-size="3.9">3</tspan></text>
<line x1="350.50" y1="175.4" x2="350.50" y2="176.6" stroke="#111" stroke-width="0.5"/>
<text x="347.90" y="182.00" font-family='"Liberation Serif", serif' font-weight="bold" font-size="5.2">10<tspan dy="-2" font-size="3.9">4</tspan></text>
<path d="M392.00,175.40 392.28,175.40 392.67,175.40 393.12,175.40 393.61,175.40 394.08,175.40 394.50,174.50 394.87,172.69 395.23,170.28 395.58,167.44 395.91,164.33 396.22,161.13 396.50,158.00 396.75,154.84 396.97,151.50 397.17,148.06 397.36,144.61 397.55,141.23 397.75,138.00 397.96,134.76 398.19,131.41 398.41,128.12 398.62,125.09 398.82,122.49 399.00,120.50 399.15,119.14 399.28,118.26 399.39,117.81 399.50,117.74 399.62,117.99 399.75,118.50 399.90,119.27 400.06,120.33 400.22,121.72 400.39,123.44 400.57,125.53 400.75,128.00 400.94,131.17 401.15,135.09 401.36,139.38 401.57,143.63 401.79,147.47 402.00,150.50 402.21,152.73 402.42,154.48 402.62,155.81 402.83,156.80 403.04,157.50 403.25,158.00 403.46,158.16 403.67,157.91 403.88,157.38 404.08,156.70 404.29,156.03 404.50,155.50 404.71,155.00 404.92,154.39 405.12,153.78 405.33,153.28 405.54,152.98 405.75,153.00 405.96,153.34 406.17,153.93 406.38,154.72 406.58,155.69 406.79,156.79 407.00,158.00 407.21,159.42 407.42,161.10 407.62,162.92 407.83,164.76 408.04,166.49 408.25,168.00 408.46,169.32 408.66,170.55 408.86,171.67 409.06,172.68 409.28,173.54 409.50,174.25 409.75,174.76 410.04,175.08 410.33,175.27 410.60,175.36 410.83,175.40 411.00,175.40 L411.00,175.4 L392.00,175.4 Z" fill="#d0d2f6"/>
<path d="M392.00,175.40 392.28,175.40 392.67,175.40 393.12,175.40 393.61,175.40 394.08,175.40 394.50,174.50 394.87,172.80 395.23,170.54 395.58,167.88 395.91,164.96 396.22,161.95 396.50,159.00 396.75,156.02 396.97,152.89 397.17,149.66 397.36,146.39 397.55,143.15 397.75,140.00 397.96,136.76 398.18,133.33 398.40,129.94 398.61,126.78 398.81,124.06 399.00,122.00 399.17,120.60 399.32,119.70 399.47,119.25 399.61,119.19 399.75,119.45 399.90,120.00 400.06,120.84 400.22,122.04 400.39,123.56 400.56,125.41 400.73,127.56 400.90,130.00 401.08,133.04 401.25,136.74 401.43,140.75 401.62,144.70 401.81,148.24 402.00,151.00 402.20,152.97 402.41,154.44 402.62,155.48 402.83,156.20 403.04,156.68 403.25,157.00 403.46,157.11 403.66,156.94 403.86,156.52 404.06,155.90 404.28,155.13 404.50,154.25 404.74,153.18 404.99,151.86 405.25,150.39 405.51,148.86 405.76,147.37 406.00,146.00 406.22,144.69 406.45,143.35 406.66,142.05 406.86,140.84 407.04,139.80 407.20,139.00 407.33,138.42 407.42,138.00 407.50,137.75 407.58,137.67 407.65,137.75 407.75,138.00 407.87,138.43 407.99,139.04 408.13,139.81 408.26,140.74 408.39,141.81 408.50,143.00 408.59,144.26 408.67,145.59 408.73,147.06 408.81,148.74 408.89,150.70 409.00,153.00 409.14,155.96 409.30,159.57 409.47,163.47 409.65,167.26 409.83,170.56 410.00,173.00 410.18,174.46 410.37,175.22 410.56,175.40 410.74,175.40 410.89,175.40 411.00,175.40 L411.00,175.4 L392.00,175.4 Z" fill="#f2c2e0"/>
<path d="M392.00,175.40 392.40,175.40 392.80,175.40 393.20,175.40 393.60,175.40 394.00,175.40 394.40,174.72 394.80,173.12 395.20,170.73 395.60,167.68 396.00,164.06 396.40,160.04 396.80,155.34 397.20,149.17 397.60,142.37 398.00,136.16 398.40,129.89 398.80,124.22 399.20,120.42 399.60,119.19 400.00,120.53 400.40,123.70 400.80,128.82 401.20,136.14 401.60,144.31 402.00,151.00 402.40,154.40 402.80,156.64 403.20,157.88 403.60,157.99 404.00,156.97 404.40,155.76 404.80,154.73 405.20,153.60 405.60,152.99 406.00,153.46 406.40,154.83 406.80,156.84 407.20,159.36 407.60,162.70 408.00,166.15 408.40,168.96 408.80,171.34 409.20,173.23 409.60,174.45 410.00,175.04 410.40,175.29 410.80,175.40 L410.80,175.4 L392.00,175.4 Z" fill="#c4a4f2"/>
<path d="M369.80,155.50 369.99,153.21 370.27,149.94 370.59,146.12 370.92,142.17 371.24,138.49 371.50,135.50 371.70,133.24 371.87,131.38 372.01,129.80 372.16,128.37 372.31,126.98 372.50,125.50 372.72,123.88 372.97,122.21 373.23,120.58 373.50,119.06 373.76,117.76 374.00,116.75 374.22,116.05 374.44,115.59 374.64,115.34 374.84,115.27 375.04,115.33 375.25,115.50 375.46,115.72 375.68,116.01 375.89,116.44 376.10,117.07 376.31,117.99 376.50,119.25 376.68,120.92 376.85,122.95 377.02,125.27 377.18,127.77 377.34,130.38 377.50,133.00 377.67,135.73 377.83,138.65 378.00,141.67 378.17,144.71 378.33,147.68 378.50,150.50 378.66,153.23 378.82,155.96 378.98,158.62 379.15,161.15 379.32,163.46 379.50,165.50 379.69,167.24 379.90,168.74 380.11,170.03 380.32,171.15 380.54,172.13 380.75,173.00 380.97,173.73 381.21,174.30 381.45,174.72 381.68,175.04 381.86,175.29 382.00,175.50" fill="none" stroke="#181828" stroke-width="1.5" stroke-dasharray="1.0,0.5"/>
<path d="M370.60,128.00 370.62,129.31 370.65,131.11 370.69,133.25 370.73,135.56 370.76,137.86 370.80,140.00 370.83,141.98 370.87,143.93 370.90,145.88 370.93,147.85 370.97,149.88 371.00,152.00 371.04,154.38 371.07,157.04 371.11,159.75 371.15,162.30 371.18,164.45 371.20,166.00" fill="none" stroke="#5a64a8" stroke-width="1.15" stroke-dasharray="1.0,0.55"/>
<path d="M392.00,175.40 392.28,175.40 392.67,175.40 393.12,175.40 393.61,175.40 394.08,175.40 394.50,174.50 394.87,172.80 395.23,170.54 395.58,167.88 395.91,164.96 396.22,161.95 396.50,159.00 396.75,156.02 396.97,152.89 397.17,149.66 397.36,146.39 397.55,143.15 397.75,140.00 397.96,136.76 398.18,133.33 398.40,129.94 398.61,126.78 398.81,124.06 399.00,122.00 399.17,120.60 399.32,119.70 399.47,119.25 399.61,119.19 399.75,119.45 399.90,120.00 400.06,120.84 400.22,122.04 400.39,123.56 400.56,125.41 400.73,127.56 400.90,130.00 401.08,133.04 401.25,136.74 401.43,140.75 401.62,144.70 401.81,148.24 402.00,151.00 402.20,152.97 402.41,154.44 402.62,155.48 402.83,156.20 403.04,156.68 403.25,157.00 403.46,157.11 403.66,156.94 403.86,156.52 404.06,155.90 404.28,155.13 404.50,154.25 404.74,153.18 404.99,151.86 405.25,150.39 405.51,148.86 405.76,147.37 406.00,146.00 406.22,144.69 406.45,143.35 406.66,142.05 406.86,140.84 407.04,139.80 407.20,139.00 407.33,138.42 407.42,138.00 407.50,137.75 407.58,137.67 407.65,137.75 407.75,138.00 407.87,138.43 407.99,139.04 408.13,139.81 408.26,140.74 408.39,141.81 408.50,143.00 408.59,144.26 408.67,145.59 408.73,147.06 408.81,148.74 408.89,150.70 409.00,153.00 409.14,155.96 409.30,159.57 409.47,163.47 409.65,167.26 409.83,170.56 410.00,173.00 410.18,174.46 410.37,175.22 410.56,175.40 410.74,175.40 410.89,175.40 411.00,175.40" fill="none" stroke="#a8305e" stroke-width="1.05"/>
<path d="M392.00,175.40 392.28,175.40 392.67,175.40 393.12,175.40 393.61,175.40 394.08,175.40 394.50,174.50 394.87,172.69 395.23,170.28 395.58,167.44 395.91,164.33 396.22,161.13 396.50,158.00 396.75,154.84 396.97,151.50 397.17,148.06 397.36,144.61 397.55,141.23 397.75,138.00 397.96,134.76 398.19,131.41 398.41,128.12 398.62,125.09 398.82,122.49 399.00,120.50 399.15,119.14 399.28,118.26 399.39,117.81 399.50,117.74 399.62,117.99 399.75,118.50 399.90,119.27 400.06,120.33 400.22,121.72 400.39,123.44 400.57,125.53 400.75,128.00 400.94,131.17 401.15,135.09 401.36,139.38 401.57,143.63 401.79,147.47 402.00,150.50 402.21,152.73 402.42,154.48 402.62,155.81 402.83,156.80 403.04,157.50 403.25,158.00 403.46,158.16 403.67,157.91 403.88,157.38 404.08,156.70 404.29,156.03 404.50,155.50 404.71,155.00 404.92,154.39 405.12,153.78 405.33,153.28 405.54,152.98 405.75,153.00 405.96,153.34 406.17,153.93 406.38,154.72 406.58,155.69 406.79,156.79 407.00,158.00 407.21,159.42 407.42,161.10 407.62,162.92 407.83,164.76 408.04,166.49 408.25,168.00 408.46,169.32 408.66,170.55 408.86,171.67 409.06,172.68 409.28,173.54 409.50,174.25 409.75,174.76 410.04,175.08 410.33,175.27 410.60,175.36 410.83,175.40 411.00,175.40" fill="none" stroke="#242058" stroke-width="1.1"/>
<path d="M369.8,110.5 L434.9,110.5 L434.9,175.4 L369.8,175.4 Z" fill="none" stroke="#111" stroke-width="0.9"/>
<line x1="368.6" y1="175.40" x2="369.8" y2="175.40" stroke="#111" stroke-width="0.5"/>
<text x="367.8" y="177.20" text-anchor="end" font-family='"Liberation Serif", serif' font-weight="bold" font-size="5.2">0</text>
<line x1="368.6" y1="162.42" x2="369.8" y2="162.42" stroke="#111" stroke-width="0.5"/>
<text x="367.8" y="164.22" text-anchor="end" font-family='"Liberation Serif", serif' font-weight="bold" font-size="5.2">20</text>
<line x1="368.6" y1="149.44" x2="369.8" y2="149.44" stroke="#111" stroke-width="0.5"/>
<text x="367.8" y="151.24" text-anchor="end" font-family='"Liberation Serif", serif' font-weight="bold" font-size="5.2">40</text>
<line x1="368.6" y1="136.46" x2="369.8" y2="136.46" stroke="#111" stroke-width="0.5"/>
<text x="367.8" y="138.26" text-anchor="end" font-family='"Liberation Serif", serif' font-weight="bold" font-size="5.2">60</text>
<line x1="368.6" y1="123.48" x2="369.8" y2="123.48" stroke="#111" stroke-width="0.5"/>
<text x="367.8" y="125.28" text-anchor="end" font-family='"Liberation Serif", serif' font-weight="bold" font-size="5.2">80</text>
<line x1="368.6" y1="110.50" x2="369.8" y2="110.50" stroke="#111" stroke-width="0.5"/>
<text x="367.8" y="112.30" text-anchor="end" font-family='"Liberation Serif", serif' font-weight="bold" font-size="5.2">100</text>
<line x1="369.90" y1="175.4" x2="369.90" y2="176.6" stroke="#111" stroke-width="0.5"/>
<text x="369.90" y="182.00" text-anchor="middle" font-family='"Liberation Serif", serif' font-weight="bold" font-size="5.2">1</text>
<line x1="385.80" y1="175.4" x2="385.80" y2="176.6" stroke="#111" stroke-width="0.5"/>
<text x="385.80" y="182.00" text-anchor="middle" font-family='"Liberation Serif", serif' font-weight="bold" font-size="5.2">10</text>
<line x1="401.70" y1="175.4" x2="401.70" y2="176.6" stroke="#111" stroke-width="0.5"/>
<text x="399.10" y="182.00" font-family='"Liberation Serif", serif' font-weight="bold" font-size="5.2">10<tspan dy="-2" font-size="3.9">2</tspan></text>
<line x1="417.60" y1="175.4" x2="417.60" y2="176.6" stroke="#111" stroke-width="0.5"/>
<text x="415.00" y="182.00" font-family='"Liberation Serif", serif' font-weight="bold" font-size="5.2">10<tspan dy="-2" font-size="3.9">3</tspan></text>
<line x1="433.50" y1="175.4" x2="433.50" y2="176.6" stroke="#111" stroke-width="0.5"/>
<text x="430.90" y="182.00" font-family='"Liberation Serif", serif' font-weight="bold" font-size="5.2">10<tspan dy="-2" font-size="3.9">4</tspan></text>
<path d="M461.00,175.40 461.22,175.09 461.52,174.54 461.88,173.88 462.26,173.13 462.64,172.33 463.00,171.50 463.34,170.63 463.70,169.70 464.06,168.72 464.41,167.69 464.72,166.61 465.00,165.50 465.22,164.34 465.39,163.11 465.53,161.84 465.67,160.56 465.82,159.27 466.00,158.00 466.22,156.74 466.45,155.45 466.70,154.17 466.96,152.91 467.23,151.68 467.50,150.50 467.78,149.37 468.06,148.28 468.36,147.22 468.66,146.19 468.96,145.20 469.25,144.25 469.54,143.34 469.82,142.49 470.11,141.67 470.40,140.87 470.69,140.07 471.00,139.25 471.33,138.39 471.68,137.49 472.03,136.59 472.38,135.73 472.71,134.94 473.00,134.25 473.25,133.65 473.47,133.09 473.67,132.61 473.86,132.21 474.05,131.92 474.25,131.75 474.46,131.77 474.67,131.98 474.88,132.30 475.08,132.63 475.29,132.89 475.50,133.00 475.71,132.91 475.92,132.68 476.12,132.38 476.33,132.07 476.54,131.84 476.75,131.75 476.96,131.71 477.17,131.66 477.38,131.67 477.58,131.84 477.79,132.26 478.00,133.00 478.21,134.04 478.42,135.31 478.62,136.83 478.83,138.60 479.04,140.65 479.25,143.00 479.46,145.88 479.67,149.34 479.88,153.08 480.08,156.80 480.29,160.20 480.50,163.00 480.71,165.17 480.92,166.94 481.12,168.39 481.33,169.62 481.54,170.71 481.75,171.75 481.97,172.71 482.21,173.51 482.45,174.17 482.68,174.71 482.86,175.15 483.00,175.40 L483.00,175.4 L461.00,175.4 Z" fill="#d0d2f6"/>
<path d="M462.00,175.40 462.39,175.31 462.94,175.06 463.59,174.77 464.28,174.41 464.93,173.99 465.50,173.50 465.97,172.93 466.41,172.28 466.81,171.56 467.20,170.81 467.59,170.03 468.00,169.25 468.42,168.46 468.83,167.64 469.25,166.80 469.67,165.94 470.08,165.09 470.50,164.25 470.92,163.46 471.35,162.72 471.78,161.98 472.20,161.19 472.61,160.30 473.00,159.25 473.37,157.99 473.74,156.56 474.09,155.03 474.43,153.46 474.73,151.93 475.00,150.50 475.22,149.21 475.40,148.00 475.55,146.83 475.69,145.64 475.83,144.38 476.00,143.00 476.20,141.43 476.41,139.71 476.62,137.92 476.84,136.15 477.05,134.48 477.25,133.00 477.43,131.64 477.60,130.31 477.77,129.09 477.93,128.05 478.09,127.24 478.25,126.75 478.42,126.53 478.59,126.52 478.77,126.75 478.94,127.26 479.10,128.08 479.25,129.25 479.39,130.85 479.51,132.86 479.62,135.19 479.74,137.72 479.86,140.36 480.00,143.00 480.15,145.77 480.31,148.79 480.48,151.91 480.66,154.99 480.83,157.90 481.00,160.50 481.16,162.82 481.31,164.99 481.47,166.98 481.63,168.79 481.80,170.38 482.00,171.75 482.24,172.85 482.52,173.69 482.81,174.33 483.09,174.81 483.33,175.18 483.50,175.40 L483.50,175.4 L462.00,175.4 Z" fill="#f2c2e0"/>
<path d="M462.00,175.40 462.40,175.31 462.80,175.13 463.20,174.95 463.60,174.76 464.00,174.55 464.40,174.33 464.80,174.07 465.20,173.76 465.60,173.38 466.00,172.89 466.40,172.29 466.80,171.58 467.20,170.81 467.60,170.02 468.00,169.25 468.40,168.49 468.80,167.70 469.20,166.90 469.60,166.08 470.00,165.26 470.40,164.45 470.80,163.69 471.20,162.98 471.60,162.30 472.00,161.58 472.40,160.76 472.80,159.79 473.20,158.58 473.60,157.11 474.00,155.44 474.40,153.59 474.80,151.56 475.20,149.33 475.60,146.37 476.00,143.00 476.40,139.77 476.80,136.50 477.20,133.38 477.60,131.88 478.00,133.00 478.40,135.21 478.80,138.32 479.20,142.44 479.60,148.24 480.00,155.31 480.40,161.66 480.80,165.95 481.20,168.83 481.60,171.00 482.00,172.80 482.40,174.03 482.80,175.00 L482.80,175.4 L462.00,175.4 Z" fill="#c4a4f2"/>
<path d="M449.70,143.00 449.84,142.02 450.04,140.67 450.27,139.06 450.52,137.33 450.77,135.60 451.00,134.00 451.22,132.48 451.43,130.93 451.64,129.38 451.86,127.85 452.08,126.38 452.30,125.00 452.53,123.67 452.76,122.37 452.99,121.12 453.23,119.96 453.47,118.91 453.70,118.00 453.93,117.18 454.17,116.43 454.40,115.79 454.63,115.31 454.87,115.03 455.10,115.00 455.33,115.18 455.56,115.52 455.79,116.07 456.03,116.86 456.26,117.92 456.50,119.30 456.75,121.07 457.00,123.22 457.25,125.65 457.50,128.26 457.75,130.94 458.00,133.60 458.24,136.36 458.47,139.31 458.71,142.34 458.94,145.33 459.17,148.15 459.40,150.70 459.63,152.98 459.86,155.09 460.09,157.04 460.33,158.84 460.56,160.49 460.80,162.00 461.03,163.33 461.24,164.47 461.46,165.46 461.70,166.34 461.97,167.18 462.30,168.00 462.70,168.79 463.16,169.50 463.65,170.16 464.16,170.79 464.65,171.39 465.10,172.00 465.54,172.64 465.99,173.30 466.42,173.95 466.82,174.54 467.16,175.04 467.40,175.40" fill="none" stroke="#b8305a" stroke-width="0.9"/>
<path d="M450.30,143.00 450.44,142.02 450.64,140.67 450.87,139.06 451.12,137.33 451.37,135.60 451.60,134.00 451.82,132.48 452.03,130.93 452.24,129.38 452.46,127.85 452.68,126.38 452.90,125.00 453.13,123.67 453.36,122.37 453.59,121.12 453.83,119.96 454.07,118.91 454.30,118.00 454.53,117.18 454.77,116.43 455.00,115.79 455.23,115.31 455.47,115.03 455.70,115.00 455.93,115.18 456.16,115.52 456.39,116.07 456.63,116.86 456.86,117.92 457.10,119.30 457.35,121.07 457.60,123.22 457.85,125.65 458.10,128.26 458.35,130.94 458.60,133.60 458.84,136.36 459.07,139.31 459.31,142.34 459.54,145.33 459.77,148.15 460.00,150.70 460.23,152.98 460.46,155.09 460.69,157.04 460.93,158.84 461.16,160.49 461.40,162.00 461.63,163.33 461.84,164.47 462.06,165.46 462.30,166.34 462.57,167.18 462.90,168.00 463.30,168.79 463.76,169.50 464.25,170.16 464.76,170.79 465.25,171.39 465.70,172.00 466.14,172.64 466.59,173.30 467.03,173.95 467.42,174.54 467.76,175.04 468.00,175.40" fill="none" stroke="#2a2048" stroke-width="1.0"/>
<path d="M462.00,175.40 462.39,175.31 462.94,175.06 463.59,174.77 464.28,174.41 464.93,173.99 465.50,173.50 465.97,172.93 466.41,172.28 466.81,171.56 467.20,170.81 467.59,170.03 468.00,169.25 468.42,168.46 468.83,167.64 469.25,166.80 469.67,165.94 470.08,165.09 470.50,164.25 470.92,163.46 471.35,162.72 471.78,161.98 472.20,161.19 472.61,160.30 473.00,159.25 473.37,157.99 473.74,156.56 474.09,155.03 474.43,153.46 474.73,151.93 475.00,150.50 475.22,149.21 475.40,148.00 475.55,146.83 475.69,145.64 475.83,144.38 476.00,143.00 476.20,141.43 476.41,139.71 476.62,137.92 476.84,136.15 477.05,134.48 477.25,133.00 477.43,131.64 477.60,130.31 477.77,129.09 477.93,128.05 478.09,127.24 478.25,126.75 478.42,126.53 478.59,126.52 478.77,126.75 478.94,127.26 479.10,128.08 479.25,129.25 479.39,130.85 479.51,132.86 479.62,135.19 479.74,137.72 479.86,140.36 480.00,143.00 480.15,145.77 480.31,148.79 480.48,151.91 480.66,154.99 480.83,157.90 481.00,160.50 481.16,162.82 481.31,164.99 481.47,166.98 481.63,168.79 481.80,170.38 482.00,171.75 482.24,172.85 482.52,173.69 482.81,174.33 483.09,174.81 483.33,175.18 483.50,175.40" fill="none" stroke="#a8305e" stroke-width="1.05"/>
<path d="M461.00,175.40 461.22,175.09 461.52,174.54 461.88,173.88 462.26,173.13 462.64,172.33 463.00,171.50 463.34,170.63 463.70,169.70 464.06,168.72 464.41,167.69 464.72,166.61 465.00,165.50 465.22,164.34 465.39,163.11 465.53,161.84 465.67,160.56 465.82,159.27 466.00,158.00 466.22,156.74 466.45,155.45 466.70,154.17 466.96,152.91 467.23,151.68 467.50,150.50 467.78,149.37 468.06,148.28 468.36,147.22 468.66,146.19 468.96,145.20 469.25,144.25 469.54,143.34 469.82,142.49 470.11,141.67 470.40,140.87 470.69,140.07 471.00,139.25 471.33,138.39 471.68,137.49 472.03,136.59 472.38,135.73 472.71,134.94 473.00,134.25 473.25,133.65 473.47,133.09 473.67,132.61 473.86,132.21 474.05,131.92 474.25,131.75 474.46,131.77 474.67,131.98 474.88,132.30 475.08,132.63 475.29,132.89 475.50,133.00 475.71,132.91 475.92,132.68 476.12,132.38 476.33,132.07 476.54,131.84 476.75,131.75 476.96,131.71 477.17,131.66 477.38,131.67 477.58,131.84 477.79,132.26 478.00,133.00 478.21,134.04 478.42,135.31 478.62,136.83 478.83,138.60 479.04,140.65 479.25,143.00 479.46,145.88 479.67,149.34 479.88,153.08 480.08,156.80 480.29,160.20 480.50,163.00 480.71,165.17 480.92,166.94 481.12,168.39 481.33,169.62 481.54,170.71 481.75,171.75 481.97,172.71 482.21,173.51 482.45,174.17 482.68,174.71 482.86,175.15 483.00,175.40" fill="none" stroke="#242058" stroke-width="1.1"/>
<path d="M450.2,110.5 L515.3,110.5 L515.3,175.4 L450.2,175.4 Z" fill="none" stroke="#111" stroke-width="0.9"/>
<line x1="449.0" y1="175.40" x2="450.2" y2="175.40" stroke="#111" stroke-width="0.5"/>
<text x="448.2" y="177.20" text-anchor="end" font-family='"Liberation Serif", serif' font-weight="bold" font-size="5.2">0</text>
<line x1="449.0" y1="162.42" x2="450.2" y2="162.42" stroke="#111" stroke-width="0.5"/>
<text x="448.2" y="164.22" text-anchor="end" font-family='"Liberation Serif", serif' font-weight="bold" font-size="5.2">20</text>
<line x1="449.0" y1="149.44" x2="450.2" y2="149.44" stroke="#111" stroke-width="0.5"/>
<text x="448.2" y="151.24" text-anchor="end" font-family='"Liberation Serif", serif' font-weight="bold" font-size="5.2">40</text>
<line x1="449.0" y1="136.46" x2="450.2" y2="136.46" stroke="#111" stroke-width="0.5"/>
<text x="448.2" y="138.26" text-anchor="end" font-family='"Liberation Serif", serif' font-weight="bold" font-size="5.2">60</text>
<line x1="449.0" y1="123.48" x2="450.2" y2="123.48" stroke="#111" stroke-width="0.5"/>
<text x="448.2" y="125.28" text-anchor="end" font-family='"Liberation Serif", serif' font-weight="bold" font-size="5.2">80</text>
<line x1="449.0" y1="110.50" x2="450.2" y2="110.50" stroke="#111" stroke-width="0.5"/>
<text x="448.2" y="112.30" text-anchor="end" font-family='"Liberation Serif", serif' font-weight="bold" font-size="5.2">100</text>
<line x1="450.30" y1="175.4" x2="450.30" y2="176.6" stroke="#111" stroke-width="0.5"/>
<text x="450.30" y="182.00" text-anchor="middle" font-family='"Liberation Serif", serif' font-weight="bold" font-size="5.2">1</text>
<line x1="466.20" y1="175.4" x2="466.20" y2="176.6" stroke="#111" stroke-width="0.5"/>
<text x="466.20" y="182.00" text-anchor="middle" font-family='"Liberation Serif", serif' font-weight="bold" font-size="5.2">10</text>
<line x1="482.10" y1="175.4" x2="482.10" y2="176.6" stroke="#111" stroke-width="0.5"/>
<text x="479.50" y="182.00" font-family='"Liberation Serif", serif' font-weight="bold" font-size="5.2">10<tspan dy="-2" font-size="3.9">2</tspan></text>
<line x1="498.00" y1="175.4" x2="498.00" y2="176.6" stroke="#111" stroke-width="0.5"/>
<text x="495.40" y="182.00" font-family='"Liberation Serif", serif' font-weight="bold" font-size="5.2">10<tspan dy="-2" font-size="3.9">3</tspan></text>
<line x1="513.90" y1="175.4" x2="513.90" y2="176.6" stroke="#111" stroke-width="0.5"/>
<text x="511.30" y="182.00" font-family='"Liberation Serif", serif' font-weight="bold" font-size="5.2">10<tspan dy="-2" font-size="3.9">4</tspan></text>
<path d="M221.40,260.36 221.80,260.35 222.20,260.32 222.60,260.29 223.00,260.25 223.40,260.20 223.80,260.13 224.20,260.03 224.60,259.91 225.00,259.76 225.40,259.56 225.80,259.32 226.20,259.02 226.60,258.65 227.00,258.21 227.40,257.68 227.80,257.05 228.20,256.31 228.60,255.44 229.00,254.42 229.40,253.22 229.80,251.81 230.20,250.11 230.60,248.07 231.00,245.60 231.40,242.62 231.80,239.06 232.20,234.88 232.60,230.11 233.00,224.86 233.40,219.36 233.80,213.91 234.20,208.90 234.60,204.74 235.00,201.81 235.40,200.40 235.80,200.63 236.20,202.47 236.60,205.71 237.00,210.03 237.40,215.04 237.80,220.33 238.20,225.56 238.60,230.45 239.00,234.85 239.40,238.69 239.80,241.96 240.20,244.72 240.60,247.05 241.00,249.03 241.40,250.71 241.80,252.17 242.20,253.43 242.60,254.54 243.00,255.50 243.40,256.34 243.80,257.07 244.20,257.69 244.60,258.21 245.00,258.65 245.40,259.02 245.80,259.32 246.20,259.56 246.60,259.76 247.00,259.91 247.40,260.03 247.80,260.13 248.20,260.20 248.60,260.25 249.00,260.29 249.40,260.32 249.80,260.35 250.20,260.36 L250.20,260.4 L221.40,260.4 Z" fill="#d0d2f6"/>
<path d="M229.22,260.36 229.62,260.35 230.02,260.32 230.42,260.29 230.82,260.24 231.22,260.18 231.62,260.10 232.02,259.99 232.42,259.85 232.82,259.67 233.22,259.44 233.62,259.15 234.02,258.80 234.42,258.36 234.82,257.83 235.22,257.20 235.62,256.44 236.02,255.55 236.42,254.50 236.82,253.27 237.22,251.80 237.62,250.04 238.02,247.91 238.42,245.31 238.82,242.16 239.22,238.37 239.62,233.90 240.02,228.79 240.42,223.21 240.82,217.42 241.22,211.83 241.62,206.89 242.02,203.09 242.42,200.81 242.82,200.31 243.22,201.62 243.62,204.60 244.02,208.90 244.42,214.08 244.82,219.67 245.22,225.23 245.62,230.45 246.02,235.12 246.42,239.16 246.82,242.57 247.22,245.42 247.62,247.79 248.02,249.77 248.42,251.46 248.82,252.90 249.22,254.13 249.62,255.21 250.02,256.13 250.42,256.92 250.82,257.59 251.22,258.16 251.62,258.63 252.02,259.02 252.42,259.33 252.82,259.59 253.22,259.78 253.62,259.94 254.02,260.06 254.42,260.15 254.82,260.22 255.22,260.27 255.62,260.31 256.02,260.34 256.42,260.36 L256.42,260.4 L229.22,260.4 Z" fill="#f2c2e0"/>
<path d="M229.22,260.36 229.62,260.35 230.02,260.32 230.42,260.29 230.82,260.24 231.22,260.18 231.62,260.10 232.02,259.99 232.42,259.85 232.82,259.67 233.22,259.44 233.62,259.15 234.02,258.80 234.42,258.36 234.82,257.83 235.22,257.20 235.62,256.44 236.02,255.55 236.42,254.50 236.82,253.27 237.22,251.80 237.62,250.04 238.02,247.91 238.42,245.31 238.82,242.16 239.22,238.37 239.62,240.49 240.02,243.48 240.42,246.01 240.82,248.14 241.22,249.96 241.62,251.51 242.02,252.86 242.42,254.04 242.82,255.07 243.22,255.96 243.62,256.74 244.02,257.41 244.42,257.98 244.82,258.46 245.22,258.86 245.62,259.18 246.02,259.45 246.42,259.67 246.82,259.84 247.22,259.98 247.62,260.08 248.02,260.17 248.42,260.23 248.82,260.28 249.22,260.31 249.62,260.34 250.02,260.36 L250.02,260.4 L229.22,260.4 Z" fill="#c4a4f2"/>
<path d="M207.50,203.30 207.64,203.14 207.82,202.88 208.05,202.60 208.29,202.33 208.53,202.13 208.75,202.05 208.96,202.10 209.17,202.24 209.38,202.44 209.58,202.70 209.79,202.99 210.00,203.30 210.21,203.63 210.42,203.99 210.62,204.39 210.83,204.83 211.04,205.30 211.25,205.80 211.46,206.32 211.67,206.86 211.88,207.44 212.08,208.07 212.29,208.77 212.50,209.55 212.71,210.40 212.92,211.31 213.12,212.28 213.33,213.35 213.54,214.51 213.75,215.80 213.96,217.25 214.17,218.86 214.38,220.57 214.58,222.33 214.79,224.09 215.00,225.80 215.21,227.48 215.42,229.18 215.62,230.88 215.83,232.56 216.04,234.21 216.25,235.80 216.46,237.35 216.67,238.86 216.88,240.33 217.08,241.77 217.29,243.18 217.50,244.55 217.71,245.90 217.92,247.24 218.12,248.53 218.33,249.78 218.54,250.96 218.75,252.05 218.96,253.06 219.17,253.99 219.38,254.86 219.58,255.66 219.79,256.39 220.00,257.05 220.21,257.63 220.42,258.11 220.62,258.53 220.83,258.90 221.04,259.23 221.25,259.55 221.47,259.85 221.71,260.11 221.95,260.33 222.18,260.52 222.36,260.68 222.50,260.80" fill="none" stroke="#c890b8" stroke-width="0.9" stroke-dasharray="0.9,0.7"/>
<path d="M206.50,203.00 206.64,202.84 206.82,202.58 207.05,202.30 207.29,202.03 207.53,201.83 207.75,201.75 207.96,201.80 208.17,201.94 208.38,202.14 208.58,202.40 208.79,202.69 209.00,203.00 209.21,203.33 209.42,203.69 209.62,204.09 209.83,204.53 210.04,205.00 210.25,205.50 210.46,206.02 210.67,206.56 210.88,207.14 211.08,207.77 211.29,208.47 211.50,209.25 211.71,210.10 211.92,211.01 212.12,211.98 212.33,213.05 212.54,214.21 212.75,215.50 212.96,216.95 213.17,218.56 213.38,220.27 213.58,222.03 213.79,223.79 214.00,225.50 214.21,227.18 214.42,228.88 214.62,230.58 214.83,232.26 215.04,233.91 215.25,235.50 215.46,237.05 215.67,238.56 215.88,240.03 216.08,241.47 216.29,242.88 216.50,244.25 216.71,245.60 216.92,246.94 217.12,248.23 217.33,249.48 217.54,250.66 217.75,251.75 217.96,252.76 218.17,253.69 218.38,254.56 218.58,255.36 218.79,256.09 219.00,256.75 219.21,257.33 219.42,257.81 219.62,258.23 219.83,258.60 220.04,258.93 220.25,259.25 220.47,259.55 220.71,259.81 220.95,260.03 221.18,260.22 221.36,260.38 221.50,260.50" fill="none" stroke="#6a5a90" stroke-width="1.0" stroke-dasharray="0.9,0.6"/>
<path d="M229.22,260.36 229.62,260.35 230.02,260.32 230.42,260.29 230.82,260.24 231.22,260.18 231.62,260.10 232.02,259.99 232.42,259.85 232.82,259.67 233.22,259.44 233.62,259.15 234.02,258.80 234.42,258.36 234.82,257.83 235.22,257.20 235.62,256.44 236.02,255.55 236.42,254.50 236.82,253.27 237.22,251.80 237.62,250.04 238.02,247.91 238.42,245.31 238.82,242.16 239.22,238.37 239.62,233.90 240.02,228.79 240.42,223.21 240.82,217.42 241.22,211.83 241.62,206.89 242.02,203.09 242.42,200.81 242.82,200.31 243.22,201.62 243.62,204.60 244.02,208.90 244.42,214.08 244.82,219.67 245.22,225.23 245.62,230.45 246.02,235.12 246.42,239.16 246.82,242.57 247.22,245.42 247.62,247.79 248.02,249.77 248.42,251.46 248.82,252.90 249.22,254.13 249.62,255.21 250.02,256.13 250.42,256.92 250.82,257.59 251.22,258.16 251.62,258.63 252.02,259.02 252.42,259.33 252.82,259.59 253.22,259.78 253.62,259.94 254.02,260.06 254.42,260.15 254.82,260.22 255.22,260.27 255.62,260.31 256.02,260.34 256.42,260.36" fill="none" stroke="#a8305e" stroke-width="1.05"/>
<path d="M221.40,260.36 221.80,260.35 222.20,260.32 222.60,260.29 223.00,260.25 223.40,260.20 223.80,260.13 224.20,260.03 224.60,259.91 225.00,259.76 225.40,259.56 225.80,259.32 226.20,259.02 226.60,258.65 227.00,258.21 227.40,257.68 227.80,257.05 228.20,256.31 228.60,255.44 229.00,254.42 229.40,253.22 229.80,251.81 230.20,250.11 230.60,248.07 231.00,245.60 231.40,242.62 231.80,239.06 232.20,234.88 232.60,230.11 233.00,224.86 233.40,219.36 233.80,213.91 234.20,208.90 234.60,204.74 235.00,201.81 235.40,200.40 235.80,200.63 236.20,202.47 236.60,205.71 237.00,210.03 237.40,215.04 237.80,220.33 238.20,225.56 238.60,230.45 239.00,234.85 239.40,238.69 239.80,241.96 240.20,244.72 240.60,247.05 241.00,249.03 241.40,250.71 241.80,252.17 242.20,253.43 242.60,254.54 243.00,255.50 243.40,256.34 243.80,257.07 244.20,257.69 244.60,258.21 245.00,258.65 245.40,259.02 245.80,259.32 246.20,259.56 246.60,259.76 247.00,259.91 247.40,260.03 247.80,260.13 248.20,260.20 248.60,260.25 249.00,260.29 249.40,260.32 249.80,260.35 250.20,260.36" fill="none" stroke="#242058" stroke-width="1.1"/>
<path d="M207.0,260.4 L207.0,251.89999999999998" stroke="#242058" stroke-width="1.2"/>
<path d="M206.4,195.7 L271.5,195.7 L271.5,260.4 L206.4,260.4 Z" fill="none" stroke="#111" stroke-width="0.9"/>
<line x1="205.20000000000002" y1="260.40" x2="206.4" y2="260.40" stroke="#111" stroke-width="0.5"/>
<text x="204.4" y="262.20" text-anchor="end" font-family='"Liberation Serif", serif' font-weight="bold" font-size="5.2">0</text>
<line x1="205.20000000000002" y1="247.46" x2="206.4" y2="247.46" stroke="#111" stroke-width="0.5"/>
<text x="204.4" y="249.26" text-anchor="end" font-family='"Liberation Serif", serif' font-weight="bold" font-size="5.2">20</text>
<line x1="205.20000000000002" y1="234.52" x2="206.4" y2="234.52" stroke="#111" stroke-width="0.5"/>
<text x="204.4" y="236.32" text-anchor="end" font-family='"Liberation Serif", serif' font-weight="bold" font-size="5.2">40</text>
<line x1="205.20000000000002" y1="221.58" x2="206.4" y2="221.58" stroke="#111" stroke-width="0.5"/>
<text x="204.4" y="223.38" text-anchor="end" font-family='"Liberation Serif", serif' font-weight="bold" font-size="5.2">60</text>
<line x1="205.20000000000002" y1="208.64" x2="206.4" y2="208.64" stroke="#111" stroke-width="0.5"/>
<text x="204.4" y="210.44" text-anchor="end" font-family='"Liberation Serif", serif' font-weight="bold" font-size="5.2">80</text>
<line x1="205.20000000000002" y1="195.70" x2="206.4" y2="195.70" stroke="#111" stroke-width="0.5"/>
<text x="204.4" y="197.50" text-anchor="end" font-family='"Liberation Serif", serif' font-weight="bold" font-size="5.2">100</text>
<line x1="206.50" y1="260.4" x2="206.50" y2="261.59999999999997" stroke="#111" stroke-width="0.5"/>
<text x="206.50" y="267.00" text-anchor="middle" font-family='"Liberation Serif", serif' font-weight="bold" font-size="5.2">1</text>
<line x1="222.40" y1="260.4" x2="222.40" y2="261.59999999999997" stroke="#111" stroke-width="0.5"/>
<text x="222.40" y="267.00" text-anchor="middle" font-family='"Liberation Serif", serif' font-weight="bold" font-size="5.2">10</text>
<line x1="238.30" y1="260.4" x2="238.30" y2="261.59999999999997" stroke="#111" stroke-width="0.5"/>
<text x="235.70" y="267.00" font-family='"Liberation Serif", serif' font-weight="bold" font-size="5.2">10<tspan dy="-2" font-size="3.9">2</tspan></text>
<line x1="254.20" y1="260.4" x2="254.20" y2="261.59999999999997" stroke="#111" stroke-width="0.5"/>
<text x="251.60" y="267.00" font-family='"Liberation Serif", serif' font-weight="bold" font-size="5.2">10<tspan dy="-2" font-size="3.9">3</tspan></text>
<line x1="270.10" y1="260.4" x2="270.10" y2="261.59999999999997" stroke="#111" stroke-width="0.5"/>
<text x="267.50" y="267.00" font-family='"Liberation Serif", serif' font-weight="bold" font-size="5.2">10<tspan dy="-2" font-size="3.9">4</tspan></text>
<path d="M287.30,257.00 287.45,256.55 287.64,255.91 287.87,255.16 288.14,254.37 288.43,253.63 288.75,253.00 289.11,252.48 289.51,252.01 289.93,251.58 290.38,251.19 290.82,250.83 291.25,250.50 291.68,250.25 292.13,250.08 292.58,249.95 293.01,249.81 293.41,249.59 293.75,249.25 294.02,248.77 294.21,248.18 294.38,247.52 294.54,246.82 294.73,246.14 295.00,245.50 295.34,244.83 295.74,244.07 296.17,243.33 296.62,242.68 297.07,242.20 297.50,242.00 297.92,242.14 298.33,242.56 298.75,243.17 299.17,243.85 299.58,244.50 300.00,245.00 300.42,245.36 300.83,245.65 301.25,245.91 301.67,246.16 302.08,246.43 302.50,246.75 302.92,247.14 303.33,247.57 303.75,248.03 304.17,248.48 304.58,248.90 305.00,249.25 305.42,249.56 305.83,249.85 306.25,250.11 306.67,250.31 307.08,250.45 307.50,250.50 307.92,250.45 308.33,250.31 308.75,250.11 309.17,249.85 309.58,249.56 310.00,249.25 310.42,248.89 310.83,248.46 311.25,248.00 311.67,247.54 312.08,247.11 312.50,246.75 312.93,246.54 313.38,246.47 313.83,246.44 314.26,246.33 314.66,246.06 315.00,245.50 315.28,244.47 315.51,243.00 315.70,241.36 315.88,239.81 316.06,238.60 316.25,238.00 316.46,238.12 316.67,238.79 316.88,239.80 317.08,240.96 317.29,242.09 317.50,243.00 317.69,243.77 317.87,244.57 318.05,245.34 318.24,246.01 318.47,246.50 318.75,246.75 319.09,246.75 319.49,246.56 319.92,246.19 320.37,245.67 320.82,245.01 321.25,244.25 321.68,243.30 322.13,242.14 322.58,240.84 323.01,239.50 323.41,238.19 323.75,237.00 324.03,235.95 324.26,234.98 324.45,234.05 324.63,233.10 324.81,232.10 325.00,231.00 325.21,229.77 325.42,228.43 325.62,227.03 325.83,225.63 326.04,224.27 326.25,223.00 326.46,221.82 326.67,220.69 326.88,219.59 327.08,218.54 327.29,217.51 327.50,216.50 327.70,215.48 327.90,214.45 328.09,213.45 328.30,212.52 328.51,211.69 328.75,211.00 329.02,210.44 329.32,209.97 329.64,209.61 329.95,209.36 330.25,209.24 330.50,209.25 330.71,209.42 330.89,209.75 331.05,210.20 331.19,210.75 331.34,211.36 331.50,212.00 331.67,212.67 331.83,213.39 332.00,214.17 332.17,215.03 332.33,215.97 332.50,217.00 332.67,218.13 332.83,219.35 333.00,220.66 333.17,222.04 333.33,223.49 333.50,225.00 333.66,226.58 333.81,228.24 333.95,229.97 334.11,231.76 334.29,233.61 334.50,235.50 334.75,237.51 335.05,239.66 335.36,241.86 335.68,244.04 335.98,246.11 336.25,248.00 336.48,249.73 336.69,251.38 336.89,252.92 337.08,254.34 337.28,255.62 337.50,256.75 337.75,257.71 338.04,258.51 338.33,259.17 338.60,259.71 338.83,260.15 339.00,260.40 L339.00,260.4 L287.30,260.4 Z" fill="#d0d2f6"/>
<path d="M287.30,256.00 287.45,255.55 287.64,254.93 287.87,254.19 288.14,253.41 288.43,252.66 288.75,252.00 289.11,251.43 289.51,250.89 289.93,250.38 290.38,249.89 290.82,249.43 291.25,249.00 291.68,248.62 292.13,248.30 292.58,248.00 293.01,247.70 293.41,247.38 293.75,247.00 294.02,246.56 294.21,246.07 294.38,245.56 294.54,245.04 294.73,244.51 295.00,244.00 295.34,243.44 295.74,242.81 296.17,242.19 296.62,241.63 297.07,241.21 297.50,241.00 297.92,241.08 298.33,241.42 298.75,241.89 299.17,242.39 299.58,242.80 300.00,243.00 300.42,242.94 300.83,242.69 301.25,242.34 301.67,242.01 302.08,241.78 302.50,241.75 302.92,242.02 303.33,242.54 303.75,243.16 304.17,243.74 304.58,244.15 305.00,244.25 305.42,243.97 305.83,243.42 306.25,242.69 306.67,241.89 307.08,241.12 307.50,240.50 307.93,239.97 308.38,239.44 308.83,238.94 309.26,238.51 309.66,238.19 310.00,238.00 310.28,237.96 310.51,238.05 310.70,238.23 310.88,238.51 311.06,238.85 311.25,239.25 311.46,239.79 311.67,240.50 311.88,241.28 312.08,242.03 312.29,242.64 312.50,243.00 312.71,243.10 312.92,243.00 313.12,242.77 313.33,242.44 313.54,242.09 313.75,241.75 313.96,241.35 314.17,240.82 314.38,240.27 314.58,239.76 314.79,239.39 315.00,239.25 315.21,239.38 315.42,239.71 315.62,240.19 315.83,240.73 316.04,241.28 316.25,241.75 316.44,242.21 316.62,242.72 316.80,243.23 316.99,243.69 317.22,244.05 317.50,244.25 317.84,244.26 318.24,244.11 318.67,243.86 319.12,243.56 319.57,243.25 320.00,243.00 320.43,242.85 320.88,242.77 321.33,242.69 321.76,242.54 322.16,242.25 322.50,241.75 322.78,240.98 323.01,239.99 323.20,238.86 323.38,237.68 323.56,236.53 323.75,235.50 323.96,234.62 324.17,233.83 324.38,233.08 324.58,232.31 324.79,231.46 325.00,230.50 325.21,229.38 325.42,228.14 325.62,226.83 325.83,225.50 326.04,224.21 326.25,223.00 326.46,221.87 326.67,220.78 326.88,219.72 327.08,218.69 327.29,217.70 327.50,216.75 327.71,215.80 327.92,214.85 328.12,213.94 328.33,213.09 328.54,212.35 328.75,211.75 328.96,211.30 329.17,210.96 329.38,210.73 329.58,210.59 329.79,210.52 330.00,210.50 330.21,210.52 330.44,210.59 330.66,210.73 330.87,210.96 331.07,211.30 331.25,211.75 331.40,212.35 331.53,213.09 331.64,213.94 331.75,214.85 331.87,215.80 332.00,216.75 332.15,217.65 332.30,218.51 332.45,219.41 332.62,220.41 332.80,221.58 333.00,223.00 333.22,224.72 333.45,226.70 333.70,228.86 333.96,231.10 334.23,233.34 334.50,235.50 334.78,237.63 335.08,239.81 335.39,241.98 335.69,244.11 335.98,246.13 336.25,248.00 336.49,249.73 336.70,251.38 336.91,252.92 337.10,254.34 337.30,255.62 337.50,256.75 337.72,257.71 337.96,258.51 338.20,259.17 338.43,259.71 338.61,260.15 338.75,260.40 L338.75,260.4 L287.30,260.4 Z" fill="#f2c2e0"/>
<path d="M287.30,257.00 287.70,255.70 288.10,254.47 288.50,253.49 288.90,252.78 289.30,252.25 289.70,251.81 290.10,251.43 290.50,251.09 290.90,250.77 291.30,250.47 291.70,250.24 292.10,250.09 292.50,249.98 292.90,249.84 293.30,249.65 293.70,249.30 294.10,248.52 294.50,246.98 294.90,245.74 295.30,244.91 295.70,244.15 296.10,243.45 296.50,242.85 296.90,242.38 297.30,242.09 297.70,242.07 298.10,242.33 298.50,242.81 298.90,243.42 299.30,244.06 299.70,244.64 300.10,245.09 300.50,245.41 300.90,245.69 301.30,245.94 301.70,246.18 302.10,246.44 302.50,246.75 302.90,247.12 303.30,247.54 303.70,247.98 304.10,248.41 304.50,248.81 304.90,249.17 305.30,249.47 305.70,249.76 306.10,250.02 306.50,250.23 306.90,250.39 307.30,250.48 307.70,250.48 308.10,250.39 308.50,250.23 308.90,250.02 309.30,249.76 309.70,249.47 310.10,249.16 310.50,248.81 310.90,248.39 311.30,247.94 311.70,247.50 312.10,247.09 312.50,246.75 312.90,246.56 313.30,246.48 313.70,246.45 314.10,246.37 314.50,246.16 314.90,245.66 315.30,244.34 315.70,241.39 316.10,241.41 316.50,242.37 316.90,243.48 317.30,244.11 317.70,244.26 318.10,245.53 318.50,246.53 318.90,246.75 319.30,246.65 319.70,246.38 320.10,245.98 320.50,245.48 320.90,244.87 321.30,244.14 321.70,243.25 322.10,242.29 322.50,241.75 322.90,240.47 323.30,238.54 323.70,237.17 324.10,235.66 324.50,233.80 324.90,231.57 325.30,229.18 325.70,226.53 326.10,223.91 326.50,221.65 326.90,219.60 327.30,217.67 327.70,215.84 328.10,214.05 328.50,212.50 328.90,211.42 329.30,210.82 329.70,210.55 330.10,210.51 330.50,210.63 330.90,211.01 331.30,211.95 331.70,214.43 332.10,217.36 332.50,219.69 332.90,222.29 333.30,225.41 333.70,228.83 334.10,232.25 334.50,235.50 334.90,238.58 335.30,241.44 335.70,244.20 336.10,246.96 336.50,249.86 336.90,252.99 337.30,255.71 337.70,257.61 338.10,258.89 338.50,259.89 L338.50,260.4 L287.30,260.4 Z" fill="#c4a4f2"/>
<path d="M287.60,196.00 287.62,198.06 287.64,200.89 287.68,204.25 287.71,207.89 287.75,211.56 287.80,215.00 287.85,218.33 287.90,221.78 287.96,225.25 288.03,228.67 288.11,231.94 288.20,235.00 288.31,237.88 288.43,240.67 288.56,243.31 288.70,245.78 288.85,248.02 289.00,250.00 289.17,251.71 289.36,253.19 289.55,254.44 289.73,255.48 289.89,256.33 290.00,257.00" fill="none" stroke="#a83088" stroke-width="1.9" stroke-dasharray="1.1,0.5"/>
<path d="M290.50,257.00 290.58,256.03 290.68,254.70 290.80,253.12 290.93,251.41 291.07,249.66 291.20,248.00 291.33,246.39 291.46,244.74 291.60,243.06 291.74,241.37 291.87,239.68 292.00,238.00 292.13,236.37 292.26,234.78 292.39,233.19 292.51,231.56 292.61,229.84 292.70,228.00 292.76,225.96 292.80,223.74 292.82,221.44 292.84,219.15 292.86,216.97 292.90,215.00 292.95,213.22 292.99,211.54 293.04,209.97 293.10,208.52 293.18,207.19 293.30,206.00 293.45,204.92 293.64,203.94 293.86,203.09 294.08,202.39 294.30,201.85 294.50,201.50 294.69,201.36 294.88,201.43 295.06,201.66 295.24,202.02 295.42,202.48 295.60,203.00 295.77,203.57 295.95,204.22 296.12,204.97 296.29,205.83 296.45,206.84 296.60,208.00 296.75,209.38 296.90,210.96 297.05,212.69 297.19,214.48 297.30,216.28 297.40,218.00 297.46,219.64 297.49,221.26 297.49,222.88 297.50,224.52 297.53,226.22 297.60,228.00 297.71,229.91 297.84,231.93 297.99,234.00 298.16,236.07 298.33,238.09 298.50,240.00 298.67,241.80 298.86,243.54 299.04,245.22 299.23,246.86 299.42,248.45 299.60,250.00 299.78,251.57 299.96,253.16 300.13,254.70 300.30,256.13 300.46,257.39 300.60,258.40 300.73,259.13 300.85,259.61 300.96,259.92 301.06,260.12 301.14,260.26 301.20,260.40" fill="none" stroke="#3a1a40" stroke-width="1.5" stroke-dasharray="1.0,0.5"/>
<path d="M287.30,256.00 287.45,255.55 287.64,254.93 287.87,254.19 288.14,253.41 288.43,252.66 288.75,252.00 289.11,251.43 289.51,250.89 289.93,250.38 290.38,249.89 290.82,249.43 291.25,249.00 291.68,248.62 292.13,248.30 292.58,248.00 293.01,247.70 293.41,247.38 293.75,247.00 294.02,246.56 294.21,246.07 294.38,245.56 294.54,245.04 294.73,244.51 295.00,244.00 295.34,243.44 295.74,242.81 296.17,242.19 296.62,241.63 297.07,241.21 297.50,241.00 297.92,241.08 298.33,241.42 298.75,241.89 299.17,242.39 299.58,242.80 300.00,243.00 300.42,242.94 300.83,242.69 301.25,242.34 301.67,242.01 302.08,241.78 302.50,241.75 302.92,242.02 303.33,242.54 303.75,243.16 304.17,243.74 304.58,244.15 305.00,244.25 305.42,243.97 305.83,243.42 306.25,242.69 306.67,241.89 307.08,241.12 307.50,240.50 307.93,239.97 308.38,239.44 308.83,238.94 309.26,238.51 309.66,238.19 310.00,238.00 310.28,237.96 310.51,238.05 310.70,238.23 310.88,238.51 311.06,238.85 311.25,239.25 311.46,239.79 311.67,240.50 311.88,241.28 312.08,242.03 312.29,242.64 312.50,243.00 312.71,243.10 312.92,243.00 313.12,242.77 313.33,242.44 313.54,242.09 313.75,241.75 313.96,241.35 314.17,240.82 314.38,240.27 314.58,239.76 314.79,239.39 315.00,239.25 315.21,239.38 315.42,239.71 315.62,240.19 315.83,240.73 316.04,241.28 316.25,241.75 316.44,242.21 316.62,242.72 316.80,243.23 316.99,243.69 317.22,244.05 317.50,244.25 317.84,244.26 318.24,244.11 318.67,243.86 319.12,243.56 319.57,243.25 320.00,243.00 320.43,242.85 320.88,242.77 321.33,242.69 321.76,242.54 322.16,242.25 322.50,241.75 322.78,240.98 323.01,239.99 323.20,238.86 323.38,237.68 323.56,236.53 323.75,235.50 323.96,234.62 324.17,233.83 324.38,233.08 324.58,232.31 324.79,231.46 325.00,230.50 325.21,229.38 325.42,228.14 325.62,226.83 325.83,225.50 326.04,224.21 326.25,223.00 326.46,221.87 326.67,220.78 326.88,219.72 327.08,218.69 327.29,217.70 327.50,216.75 327.71,215.80 327.92,214.85 328.12,213.94 328.33,213.09 328.54,212.35 328.75,211.75 328.96,211.30 329.17,210.96 329.38,210.73 329.58,210.59 329.79,210.52 330.00,210.50 330.21,210.52 330.44,210.59 330.66,210.73 330.87,210.96 331.07,211.30 331.25,211.75 331.40,212.35 331.53,213.09 331.64,213.94 331.75,214.85 331.87,215.80 332.00,216.75 332.15,217.65 332.30,218.51 332.45,219.41 332.62,220.41 332.80,221.58 333.00,223.00 333.22,224.72 333.45,226.70 333.70,228.86 333.96,231.10 334.23,233.34 334.50,235.50 334.78,237.63 335.08,239.81 335.39,241.98 335.69,244.11 335.98,246.13 336.25,248.00 336.49,249.73 336.70,251.38 336.91,252.92 337.10,254.34 337.30,255.62 337.50,256.75 337.72,257.71 337.96,258.51 338.20,259.17 338.43,259.71 338.61,260.15 338.75,260.40" fill="none" stroke="#a8305e" stroke-width="1.05"/>
<path d="M287.30,257.00 287.45,256.55 287.64,255.91 287.87,255.16 288.14,254.37 288.43,253.63 288.75,253.00 289.11,252.48 289.51,252.01 289.93,251.58 290.38,251.19 290.82,250.83 291.25,250.50 291.68,250.25 292.13,250.08 292.58,249.95 293.01,249.81 293.41,249.59 293.75,249.25 294.02,248.77 294.21,248.18 294.38,247.52 294.54,246.82 294.73,246.14 295.00,245.50 295.34,244.83 295.74,244.07 296.17,243.33 296.62,242.68 297.07,242.20 297.50,242.00 297.92,242.14 298.33,242.56 298.75,243.17 299.17,243.85 299.58,244.50 300.00,245.00 300.42,245.36 300.83,245.65 301.25,245.91 301.67,246.16 302.08,246.43 302.50,246.75 302.92,247.14 303.33,247.57 303.75,248.03 304.17,248.48 304.58,248.90 305.00,249.25 305.42,249.56 305.83,249.85 306.25,250.11 306.67,250.31 307.08,250.45 307.50,250.50 307.92,250.45 308.33,250.31 308.75,250.11 309.17,249.85 309.58,249.56 310.00,249.25 310.42,248.89 310.83,248.46 311.25,248.00 311.67,247.54 312.08,247.11 312.50,246.75 312.93,246.54 313.38,246.47 313.83,246.44 314.26,246.33 314.66,246.06 315.00,245.50 315.28,244.47 315.51,243.00 315.70,241.36 315.88,239.81 316.06,238.60 316.25,238.00 316.46,238.12 316.67,238.79 316.88,239.80 317.08,240.96 317.29,242.09 317.50,243.00 317.69,243.77 317.87,244.57 318.05,245.34 318.24,246.01 318.47,246.50 318.75,246.75 319.09,246.75 319.49,246.56 319.92,246.19 320.37,245.67 320.82,245.01 321.25,244.25 321.68,243.30 322.13,242.14 322.58,240.84 323.01,239.50 323.41,238.19 323.75,237.00 324.03,235.95 324.26,234.98 324.45,234.05 324.63,233.10 324.81,232.10 325.00,231.00 325.21,229.77 325.42,228.43 325.62,227.03 325.83,225.63 326.04,224.27 326.25,223.00 326.46,221.82 326.67,220.69 326.88,219.59 327.08,218.54 327.29,217.51 327.50,216.50 327.70,215.48 327.90,214.45 328.09,213.45 328.30,212.52 328.51,211.69 328.75,211.00 329.02,210.44 329.32,209.97 329.64,209.61 329.95,209.36 330.25,209.24 330.50,209.25 330.71,209.42 330.89,209.75 331.05,210.20 331.19,210.75 331.34,211.36 331.50,212.00 331.67,212.67 331.83,213.39 332.00,214.17 332.17,215.03 332.33,215.97 332.50,217.00 332.67,218.13 332.83,219.35 333.00,220.66 333.17,222.04 333.33,223.49 333.50,225.00 333.66,226.58 333.81,228.24 333.95,229.97 334.11,231.76 334.29,233.61 334.50,235.50 334.75,237.51 335.05,239.66 335.36,241.86 335.68,244.04 335.98,246.11 336.25,248.00 336.48,249.73 336.69,251.38 336.89,252.92 337.08,254.34 337.28,255.62 337.50,256.75 337.75,257.71 338.04,258.51 338.33,259.17 338.60,259.71 338.83,260.15 339.00,260.40" fill="none" stroke="#242058" stroke-width="1.1"/>
<path d="M286.8,195.7 L351.9,195.7 L351.9,260.4 L286.8,260.4 Z" fill="none" stroke="#111" stroke-width="0.9"/>
<line x1="285.6" y1="260.40" x2="286.8" y2="260.40" stroke="#111" stroke-width="0.5"/>
<text x="284.8" y="262.20" text-anchor="end" font-family='"Liberation Serif", serif' font-weight="bold" font-size="5.2">0</text>
<line x1="285.6" y1="247.46" x2="286.8" y2="247.46" stroke="#111" stroke-width="0.5"/>
<text x="284.8" y="249.26" text-anchor="end" font-family='"Liberation Serif", serif' font-weight="bold" font-size="5.2">20</text>
<line x1="285.6" y1="234.52" x2="286.8" y2="234.52" stroke="#111" stroke-width="0.5"/>
<text x="284.8" y="236.32" text-anchor="end" font-family='"Liberation Serif", serif' font-weight="bold" font-size="5.2">40</text>
<line x1="285.6" y1="221.58" x2="286.8" y2="221.58" stroke="#111" stroke-width="0.5"/>
<text x="284.8" y="223.38" text-anchor="end" font-family='"Liberation Serif", serif' font-weight="bold" font-size="5.2">60</text>
<line x1="285.6" y1="208.64" x2="286.8" y2="208.64" stroke="#111" stroke-width="0.5"/>
<text x="284.8" y="210.44" text-anchor="end" font-family='"Liberation Serif", serif' font-weight="bold" font-size="5.2">80</text>
<line x1="285.6" y1="195.70" x2="286.8" y2="195.70" stroke="#111" stroke-width="0.5"/>
<text x="284.8" y="197.50" text-anchor="end" font-family='"Liberation Serif", serif' font-weight="bold" font-size="5.2">100</text>
<line x1="286.90" y1="260.4" x2="286.90" y2="261.59999999999997" stroke="#111" stroke-width="0.5"/>
<text x="286.90" y="267.00" text-anchor="middle" font-family='"Liberation Serif", serif' font-weight="bold" font-size="5.2">1</text>
<line x1="302.80" y1="260.4" x2="302.80" y2="261.59999999999997" stroke="#111" stroke-width="0.5"/>
<text x="302.80" y="267.00" text-anchor="middle" font-family='"Liberation Serif", serif' font-weight="bold" font-size="5.2">10</text>
<line x1="318.70" y1="260.4" x2="318.70" y2="261.59999999999997" stroke="#111" stroke-width="0.5"/>
<text x="316.10" y="267.00" font-family='"Liberation Serif", serif' font-weight="bold" font-size="5.2">10<tspan dy="-2" font-size="3.9">2</tspan></text>
<line x1="334.60" y1="260.4" x2="334.60" y2="261.59999999999997" stroke="#111" stroke-width="0.5"/>
<text x="332.00" y="267.00" font-family='"Liberation Serif", serif' font-weight="bold" font-size="5.2">10<tspan dy="-2" font-size="3.9">3</tspan></text>
<line x1="350.50" y1="260.4" x2="350.50" y2="261.59999999999997" stroke="#111" stroke-width="0.5"/>
<text x="347.90" y="267.00" font-family='"Liberation Serif", serif' font-weight="bold" font-size="5.2">10<tspan dy="-2" font-size="3.9">4</tspan></text>
<path d="M392.00,260.40 392.22,259.77 392.53,258.83 392.89,257.69 393.28,256.33 393.66,254.77 394.00,253.00 394.31,250.96 394.62,248.65 394.92,246.12 395.21,243.46 395.49,240.73 395.75,238.00 395.99,235.20 396.20,232.26 396.41,229.25 396.60,226.24 396.80,223.30 397.00,220.50 397.21,217.73 397.42,214.90 397.62,212.14 397.83,209.57 398.04,207.32 398.25,205.50 398.46,204.14 398.67,203.14 398.88,202.45 399.08,202.03 399.29,201.81 399.50,201.75 399.71,201.84 399.94,202.12 400.16,202.61 400.37,203.32 400.57,204.28 400.75,205.50 400.90,207.19 401.03,209.39 401.14,211.83 401.25,214.25 401.37,216.39 401.50,218.00 401.66,218.85 401.82,219.11 402.00,219.09 402.18,219.11 402.34,219.48 402.50,220.50 402.63,222.28 402.75,224.57 402.86,227.22 402.97,230.04 403.10,232.86 403.25,235.50 403.43,238.08 403.63,240.76 403.84,243.44 404.06,246.02 404.29,248.41 404.50,250.50 404.71,252.31 404.92,253.91 405.12,255.31 405.33,256.54 405.54,257.59 405.75,258.50 405.97,259.20 406.21,259.69 406.45,260.00 406.68,260.20 406.86,260.35 407.00,260.40 L407.00,260.4 L392.00,260.4 Z" fill="#d0d2f6"/>
<path d="M391.50,260.40 391.72,259.89 392.03,259.13 392.39,258.19 392.77,257.04 393.16,255.65 393.50,254.00 393.82,252.03 394.13,249.74 394.44,247.22 394.74,244.54 395.03,241.77 395.30,239.00 395.56,236.14 395.80,233.11 396.03,230.00 396.26,226.89 396.48,223.86 396.70,221.00 396.92,218.19 397.14,215.35 397.36,212.59 397.57,210.04 397.78,207.80 398.00,206.00 398.22,204.69 398.43,203.80 398.65,203.22 398.87,202.87 399.08,202.66 399.30,202.50 399.52,202.39 399.75,202.39 399.98,202.53 400.20,202.83 400.41,203.32 400.60,204.00 400.77,205.00 400.93,206.33 401.07,207.84 401.21,209.39 401.35,210.82 401.50,212.00 401.66,212.78 401.83,213.26 401.99,213.62 402.16,214.07 402.33,214.80 402.50,216.00 402.66,217.71 402.82,219.78 402.98,222.12 403.14,224.67 403.32,227.32 403.50,230.00 403.70,232.87 403.91,236.04 404.14,239.31 404.36,242.52 404.59,245.47 404.80,248.00 405.00,250.08 405.20,251.87 405.39,253.41 405.58,254.74 405.78,255.92 406.00,257.00 406.25,257.94 406.53,258.70 406.82,259.31 407.10,259.80 407.33,260.18 407.50,260.40 L407.50,260.4 L391.50,260.4 Z" fill="#f2c2e0"/>
<path d="M392.00,260.40 392.40,259.22 392.80,257.97 393.20,256.61 393.60,255.01 394.00,253.00 394.40,250.30 394.80,247.14 395.20,243.58 395.60,239.58 396.00,235.03 396.40,229.34 396.80,223.27 397.20,217.84 397.60,212.47 398.00,207.77 398.40,204.52 398.80,202.98 399.20,202.57 399.60,202.39 400.00,202.57 400.40,203.47 400.80,206.06 401.20,213.14 401.60,218.55 402.00,219.09 402.40,219.84 402.80,225.78 403.20,234.62 403.60,240.36 404.00,245.26 404.40,249.52 404.80,253.01 405.20,255.75 405.60,257.85 406.00,259.26 406.40,259.93 406.80,260.30 L406.80,260.4 L392.00,260.4 Z" fill="#c4a4f2"/>
<path d="M369.80,236.75 369.90,234.94 370.04,232.40 370.20,229.41 370.38,226.24 370.56,223.18 370.75,220.50 370.94,218.11 371.14,215.78 371.36,213.55 371.57,211.47 371.79,209.61 372.00,208.00 372.20,206.70 372.40,205.67 372.59,204.84 372.80,204.17 373.01,203.57 373.25,203.00 373.52,202.43 373.81,201.92 374.11,201.48 374.42,201.17 374.72,200.99 375.00,201.00 375.27,201.12 375.54,201.31 375.80,201.64 376.05,202.19 376.28,203.04 376.50,204.25 376.70,205.89 376.87,207.92 377.03,210.23 377.19,212.75 377.34,215.37 377.50,218.00 377.67,220.76 377.83,223.74 378.00,226.83 378.17,229.90 378.33,232.83 378.50,235.50 378.66,237.92 378.82,240.18 378.98,242.30 379.15,244.30 379.32,246.19 379.50,248.00 379.69,249.73 379.90,251.38 380.11,252.92 380.32,254.34 380.54,255.62 380.75,256.75 380.97,257.71 381.21,258.51 381.45,259.17 381.68,259.71 381.86,260.15 382.00,260.50" fill="none" stroke="#181828" stroke-width="1.5" stroke-dasharray="1.0,0.5"/>
<path d="M370.60,220.00 370.62,221.31 370.65,223.11 370.69,225.25 370.73,227.56 370.76,229.86 370.80,232.00 370.83,234.05 370.87,236.15 370.90,238.25 370.93,240.30 370.97,242.23 371.00,244.00 371.04,245.66 371.07,247.26 371.11,248.75 371.15,250.07 371.18,251.18 371.20,252.00" fill="none" stroke="#5a64a8" stroke-width="1.15" stroke-dasharray="1.0,0.55"/>
<path d="M391.50,260.40 391.72,259.89 392.03,259.13 392.39,258.19 392.77,257.04 393.16,255.65 393.50,254.00 393.82,252.03 394.13,249.74 394.44,247.22 394.74,244.54 395.03,241.77 395.30,239.00 395.56,236.14 395.80,233.11 396.03,230.00 396.26,226.89 396.48,223.86 396.70,221.00 396.92,218.19 397.14,215.35 397.36,212.59 397.57,210.04 397.78,207.80 398.00,206.00 398.22,204.69 398.43,203.80 398.65,203.22 398.87,202.87 399.08,202.66 399.30,202.50 399.52,202.39 399.75,202.39 399.98,202.53 400.20,202.83 400.41,203.32 400.60,204.00 400.77,205.00 400.93,206.33 401.07,207.84 401.21,209.39 401.35,210.82 401.50,212.00 401.66,212.78 401.83,213.26 401.99,213.62 402.16,214.07 402.33,214.80 402.50,216.00 402.66,217.71 402.82,219.78 402.98,222.12 403.14,224.67 403.32,227.32 403.50,230.00 403.70,232.87 403.91,236.04 404.14,239.31 404.36,242.52 404.59,245.47 404.80,248.00 405.00,250.08 405.20,251.87 405.39,253.41 405.58,254.74 405.78,255.92 406.00,257.00 406.25,257.94 406.53,258.70 406.82,259.31 407.10,259.80 407.33,260.18 407.50,260.40" fill="none" stroke="#a8305e" stroke-width="1.05"/>
<path d="M392.00,260.40 392.22,259.77 392.53,258.83 392.89,257.69 393.28,256.33 393.66,254.77 394.00,253.00 394.31,250.96 394.62,248.65 394.92,246.12 395.21,243.46 395.49,240.73 395.75,238.00 395.99,235.20 396.20,232.26 396.41,229.25 396.60,226.24 396.80,223.30 397.00,220.50 397.21,217.73 397.42,214.90 397.62,212.14 397.83,209.57 398.04,207.32 398.25,205.50 398.46,204.14 398.67,203.14 398.88,202.45 399.08,202.03 399.29,201.81 399.50,201.75 399.71,201.84 399.94,202.12 400.16,202.61 400.37,203.32 400.57,204.28 400.75,205.50 400.90,207.19 401.03,209.39 401.14,211.83 401.25,214.25 401.37,216.39 401.50,218.00 401.66,218.85 401.82,219.11 402.00,219.09 402.18,219.11 402.34,219.48 402.50,220.50 402.63,222.28 402.75,224.57 402.86,227.22 402.97,230.04 403.10,232.86 403.25,235.50 403.43,238.08 403.63,240.76 403.84,243.44 404.06,246.02 404.29,248.41 404.50,250.50 404.71,252.31 404.92,253.91 405.12,255.31 405.33,256.54 405.54,257.59 405.75,258.50 405.97,259.20 406.21,259.69 406.45,260.00 406.68,260.20 406.86,260.35 407.00,260.40" fill="none" stroke="#242058" stroke-width="1.1"/>
<path d="M369.8,195.7 L434.9,195.7 L434.9,260.4 L369.8,260.4 Z" fill="none" stroke="#111" stroke-width="0.9"/>
<line x1="368.6" y1="260.40" x2="369.8" y2="260.40" stroke="#111" stroke-width="0.5"/>
<text x="367.8" y="262.20" text-anchor="end" font-family='"Liberation Serif", serif' font-weight="bold" font-size="5.2">0</text>
<line x1="368.6" y1="247.46" x2="369.8" y2="247.46" stroke="#111" stroke-width="0.5"/>
<text x="367.8" y="249.26" text-anchor="end" font-family='"Liberation Serif", serif' font-weight="bold" font-size="5.2">20</text>
<line x1="368.6" y1="234.52" x2="369.8" y2="234.52" stroke="#111" stroke-width="0.5"/>
<text x="367.8" y="236.32" text-anchor="end" font-family='"Liberation Serif", serif' font-weight="bold" font-size="5.2">40</text>
<line x1="368.6" y1="221.58" x2="369.8" y2="221.58" stroke="#111" stroke-width="0.5"/>
<text x="367.8" y="223.38" text-anchor="end" font-family='"Liberation Serif", serif' font-weight="bold" font-size="5.2">60</text>
<line x1="368.6" y1="208.64" x2="369.8" y2="208.64" stroke="#111" stroke-width="0.5"/>
<text x="367.8" y="210.44" text-anchor="end" font-family='"Liberation Serif", serif' font-weight="bold" font-size="5.2">80</text>
<line x1="368.6" y1="195.70" x2="369.8" y2="195.70" stroke="#111" stroke-width="0.5"/>
<text x="367.8" y="197.50" text-anchor="end" font-family='"Liberation Serif", serif' font-weight="bold" font-size="5.2">100</text>
<line x1="369.90" y1="260.4" x2="369.90" y2="261.59999999999997" stroke="#111" stroke-width="0.5"/>
<text x="369.90" y="267.00" text-anchor="middle" font-family='"Liberation Serif", serif' font-weight="bold" font-size="5.2">1</text>
<line x1="385.80" y1="260.4" x2="385.80" y2="261.59999999999997" stroke="#111" stroke-width="0.5"/>
<text x="385.80" y="267.00" text-anchor="middle" font-family='"Liberation Serif", serif' font-weight="bold" font-size="5.2">10</text>
<line x1="401.70" y1="260.4" x2="401.70" y2="261.59999999999997" stroke="#111" stroke-width="0.5"/>
<text x="399.10" y="267.00" font-family='"Liberation Serif", serif' font-weight="bold" font-size="5.2">10<tspan dy="-2" font-size="3.9">2</tspan></text>
<line x1="417.60" y1="260.4" x2="417.60" y2="261.59999999999997" stroke="#111" stroke-width="0.5"/>
<text x="415.00" y="267.00" font-family='"Liberation Serif", serif' font-weight="bold" font-size="5.2">10<tspan dy="-2" font-size="3.9">3</tspan></text>
<line x1="433.50" y1="260.4" x2="433.50" y2="261.59999999999997" stroke="#111" stroke-width="0.5"/>
<text x="430.90" y="267.00" font-family='"Liberation Serif", serif' font-weight="bold" font-size="5.2">10<tspan dy="-2" font-size="3.9">4</tspan></text>
<path d="M457.00,260.40 457.11,260.29 457.25,260.02 457.42,259.69 457.61,259.31 457.81,258.91 458.00,258.50 458.19,258.11 458.40,257.74 458.61,257.34 458.82,256.87 459.04,256.27 459.25,255.50 459.46,254.51 459.67,253.33 459.88,252.03 460.08,250.67 460.29,249.30 460.50,248.00 460.71,246.78 460.92,245.59 461.12,244.41 461.33,243.19 461.54,241.89 461.75,240.50 461.96,238.98 462.17,237.35 462.38,235.66 462.58,233.93 462.79,232.20 463.00,230.50 463.21,228.80 463.42,227.07 463.62,225.34 463.83,223.65 464.04,222.02 464.25,220.50 464.46,219.08 464.67,217.72 464.88,216.44 465.08,215.22 465.29,214.08 465.50,213.00 465.71,212.00 465.92,211.07 466.12,210.22 466.33,209.43 466.54,208.69 466.75,208.00 466.96,207.27 467.17,206.49 467.38,205.77 467.58,205.20 467.79,204.91 468.00,205.00 468.21,205.54 468.42,206.45 468.62,207.64 468.83,208.99 469.04,210.40 469.25,211.75 469.46,213.08 469.67,214.47 469.88,215.92 470.08,217.42 470.29,218.95 470.50,220.50 470.71,222.11 470.92,223.79 471.12,225.50 471.33,227.21 471.54,228.89 471.75,230.50 471.96,232.07 472.17,233.65 472.38,235.19 472.58,236.66 472.79,238.02 473.00,239.25 473.21,240.37 473.42,241.43 473.62,242.38 473.83,243.19 474.04,243.82 474.25,244.25 474.46,244.35 474.67,244.11 474.88,243.70 475.08,243.28 475.29,242.99 475.50,243.00 475.71,243.32 475.92,243.83 476.12,244.48 476.33,245.22 476.54,245.99 476.75,246.75 476.96,247.54 477.17,248.42 477.38,249.33 477.58,250.22 477.79,251.05 478.00,251.75 478.21,252.30 478.42,252.72 478.62,253.08 478.83,253.42 479.04,253.79 479.25,254.25 479.46,254.82 479.67,255.45 479.88,256.12 480.08,256.80 480.29,257.43 480.50,258.00 480.72,258.52 480.96,259.02 481.20,259.48 481.43,259.90 481.61,260.24 481.75,260.40 L481.75,260.4 L457.00,260.4 Z" fill="#d0d2f6"/>
<path d="M458.00,260.40 458.12,260.40 458.28,260.40 458.47,260.40 458.69,260.27 458.95,259.91 459.25,259.25 459.60,258.27 460.02,257.03 460.47,255.58 460.93,253.97 461.36,252.26 461.75,250.50 462.08,248.66 462.38,246.70 462.66,244.64 462.93,242.49 463.20,240.27 463.50,238.00 463.83,235.56 464.18,232.91 464.53,230.19 464.88,227.54 465.21,225.09 465.50,223.00 465.75,221.29 465.97,219.85 466.17,218.62 466.36,217.54 466.55,216.52 466.75,215.50 466.96,214.44 467.17,213.37 467.38,212.38 467.58,211.52 467.79,210.87 468.00,210.50 468.21,210.45 468.42,210.69 468.62,211.12 468.83,211.70 469.04,212.35 469.25,213.00 469.46,213.66 469.67,214.39 469.88,215.19 470.08,216.06 470.29,216.99 470.50,218.00 470.71,219.11 470.92,220.31 471.12,221.59 471.33,222.91 471.54,224.22 471.75,225.50 471.96,226.81 472.17,228.19 472.38,229.56 472.58,230.87 472.79,232.04 473.00,233.00 473.21,233.75 473.42,234.34 473.62,234.80 473.83,235.13 474.04,235.36 474.25,235.50 474.46,235.51 474.67,235.38 474.88,235.14 475.08,234.84 475.29,234.53 475.50,234.25 475.71,234.02 475.92,233.81 476.12,233.58 476.33,233.31 476.54,232.96 476.75,232.50 476.96,231.82 477.17,230.93 477.38,229.95 477.58,229.05 477.79,228.35 478.00,228.00 478.21,227.99 478.42,228.20 478.62,228.62 478.83,229.24 479.04,230.04 479.25,231.00 479.46,232.17 479.67,233.57 479.88,235.16 480.08,236.87 480.29,238.67 480.50,240.50 480.71,242.49 480.92,244.70 481.12,247.00 481.33,249.24 481.54,251.29 481.75,253.00 481.96,254.36 482.17,255.48 482.38,256.41 482.58,257.19 482.79,257.87 483.00,258.50 483.22,259.06 483.46,259.50 483.70,259.84 483.93,260.11 484.11,260.32 484.25,260.40 L484.25,260.4 L458.00,260.4 Z" fill="#f2c2e0"/>
<path d="M458.00,260.40 458.40,260.40 458.80,260.12 459.20,259.36 459.60,258.28 460.00,257.08 460.40,255.80 460.80,254.41 461.20,252.90 461.60,251.18 462.00,249.12 462.40,246.55 462.80,243.49 463.20,240.29 463.60,237.25 464.00,234.25 464.40,231.19 464.80,228.14 465.20,225.15 465.60,222.32 466.00,219.68 466.40,217.33 466.80,215.24 467.20,213.21 467.60,211.47 468.00,210.50 468.40,210.67 468.80,211.61 469.20,212.84 469.60,214.16 470.00,216.82 470.40,219.75 470.80,222.85 471.20,226.12 471.60,229.34 472.00,232.39 472.40,235.36 472.80,238.07 473.20,240.33 473.60,242.26 474.00,243.69 474.40,244.32 474.80,243.85 475.20,243.12 475.60,243.15 476.00,244.09 476.40,245.47 476.80,246.94 477.20,248.56 477.60,250.29 478.00,251.75 478.40,252.69 478.80,253.36 479.20,254.14 479.60,255.25 480.00,256.53 480.40,257.73 480.80,258.68 481.20,259.48 481.60,260.22 L481.60,260.4 L458.00,260.4 Z" fill="#c4a4f2"/>
<path d="M449.70,230.00 449.84,228.88 450.04,227.30 450.27,225.44 450.52,223.49 450.77,221.61 451.00,220.00 451.22,218.65 451.43,217.42 451.64,216.28 451.86,215.17 452.08,214.06 452.30,212.90 452.53,211.68 452.76,210.42 452.99,209.16 453.23,207.93 453.47,206.76 453.70,205.70 453.93,204.67 454.17,203.62 454.40,202.64 454.63,201.80 454.87,201.20 455.10,200.90 455.33,200.90 455.56,201.13 455.79,201.59 456.03,202.27 456.26,203.18 456.50,204.30 456.75,205.67 457.00,207.29 457.25,209.14 457.50,211.17 457.75,213.37 458.00,215.70 458.24,218.27 458.47,221.12 458.71,224.13 458.94,227.18 459.17,230.15 459.40,232.90 459.63,235.51 459.86,238.08 460.09,240.57 460.33,242.92 460.56,245.08 460.80,247.00 461.03,248.64 461.24,250.05 461.46,251.26 461.70,252.34 461.97,253.34 462.30,254.30 462.70,255.22 463.16,256.05 463.65,256.79 464.16,257.46 464.65,258.06 465.10,258.60 465.54,259.07 465.99,259.45 466.42,259.77 466.82,260.03 467.16,260.23 467.40,260.40" fill="none" stroke="#b8305a" stroke-width="0.9"/>
<path d="M450.30,230.00 450.44,228.88 450.64,227.30 450.87,225.44 451.12,223.49 451.37,221.61 451.60,220.00 451.82,218.65 452.03,217.42 452.24,216.28 452.46,215.17 452.68,214.06 452.90,212.90 453.13,211.68 453.36,210.42 453.59,209.16 453.83,207.93 454.07,206.76 454.30,205.70 454.53,204.67 454.77,203.62 455.00,202.64 455.23,201.80 455.47,201.20 455.70,200.90 455.93,200.90 456.16,201.13 456.39,201.59 456.63,202.27 456.86,203.18 457.10,204.30 457.35,205.67 457.60,207.29 457.85,209.14 458.10,211.17 458.35,213.37 458.60,215.70 458.84,218.27 459.07,221.12 459.31,224.13 459.54,227.18 459.77,230.15 460.00,232.90 460.23,235.51 460.46,238.08 460.69,240.57 460.93,242.92 461.16,245.08 461.40,247.00 461.63,248.64 461.84,250.05 462.06,251.26 462.30,252.34 462.57,253.34 462.90,254.30 463.30,255.22 463.76,256.05 464.25,256.79 464.76,257.46 465.25,258.06 465.70,258.60 466.14,259.07 466.59,259.45 467.03,259.77 467.42,260.03 467.76,260.23 468.00,260.40" fill="none" stroke="#2a2048" stroke-width="1.0"/>
<path d="M458.00,260.40 458.12,260.40 458.28,260.40 458.47,260.40 458.69,260.27 458.95,259.91 459.25,259.25 459.60,258.27 460.02,257.03 460.47,255.58 460.93,253.97 461.36,252.26 461.75,250.50 462.08,248.66 462.38,246.70 462.66,244.64 462.93,242.49 463.20,240.27 463.50,238.00 463.83,235.56 464.18,232.91 464.53,230.19 464.88,227.54 465.21,225.09 465.50,223.00 465.75,221.29 465.97,219.85 466.17,218.62 466.36,217.54 466.55,216.52 466.75,215.50 466.96,214.44 467.17,213.37 467.38,212.38 467.58,211.52 467.79,210.87 468.00,210.50 468.21,210.45 468.42,210.69 468.62,211.12 468.83,211.70 469.04,212.35 469.25,213.00 469.46,213.66 469.67,214.39 469.88,215.19 470.08,216.06 470.29,216.99 470.50,218.00 470.71,219.11 470.92,220.31 471.12,221.59 471.33,222.91 471.54,224.22 471.75,225.50 471.96,226.81 472.17,228.19 472.38,229.56 472.58,230.87 472.79,232.04 473.00,233.00 473.21,233.75 473.42,234.34 473.62,234.80 473.83,235.13 474.04,235.36 474.25,235.50 474.46,235.51 474.67,235.38 474.88,235.14 475.08,234.84 475.29,234.53 475.50,234.25 475.71,234.02 475.92,233.81 476.12,233.58 476.33,233.31 476.54,232.96 476.75,232.50 476.96,231.82 477.17,230.93 477.38,229.95 477.58,229.05 477.79,228.35 478.00,228.00 478.21,227.99 478.42,228.20 478.62,228.62 478.83,229.24 479.04,230.04 479.25,231.00 479.46,232.17 479.67,233.57 479.88,235.16 480.08,236.87 480.29,238.67 480.50,240.50 480.71,242.49 480.92,244.70 481.12,247.00 481.33,249.24 481.54,251.29 481.75,253.00 481.96,254.36 482.17,255.48 482.38,256.41 482.58,257.19 482.79,257.87 483.00,258.50 483.22,259.06 483.46,259.50 483.70,259.84 483.93,260.11 484.11,260.32 484.25,260.40" fill="none" stroke="#a8305e" stroke-width="1.05"/>
<path d="M457.00,260.40 457.11,260.29 457.25,260.02 457.42,259.69 457.61,259.31 457.81,258.91 458.00,258.50 458.19,258.11 458.40,257.74 458.61,257.34 458.82,256.87 459.04,256.27 459.25,255.50 459.46,254.51 459.67,253.33 459.88,252.03 460.08,250.67 460.29,249.30 460.50,248.00 460.71,246.78 460.92,245.59 461.12,244.41 461.33,243.19 461.54,241.89 461.75,240.50 461.96,238.98 462.17,237.35 462.38,235.66 462.58,233.93 462.79,232.20 463.00,230.50 463.21,228.80 463.42,227.07 463.62,225.34 463.83,223.65 464.04,222.02 464.25,220.50 464.46,219.08 464.67,217.72 464.88,216.44 465.08,215.22 465.29,214.08 465.50,213.00 465.71,212.00 465.92,211.07 466.12,210.22 466.33,209.43 466.54,208.69 466.75,208.00 466.96,207.27 467.17,206.49 467.38,205.77 467.58,205.20 467.79,204.91 468.00,205.00 468.21,205.54 468.42,206.45 468.62,207.64 468.83,208.99 469.04,210.40 469.25,211.75 469.46,213.08 469.67,214.47 469.88,215.92 470.08,217.42 470.29,218.95 470.50,220.50 470.71,222.11 470.92,223.79 471.12,225.50 471.33,227.21 471.54,228.89 471.75,230.50 471.96,232.07 472.17,233.65 472.38,235.19 472.58,236.66 472.79,238.02 473.00,239.25 473.21,240.37 473.42,241.43 473.62,242.38 473.83,243.19 474.04,243.82 474.25,244.25 474.46,244.35 474.67,244.11 474.88,243.70 475.08,243.28 475.29,242.99 475.50,243.00 475.71,243.32 475.92,243.83 476.12,244.48 476.33,245.22 476.54,245.99 476.75,246.75 476.96,247.54 477.17,248.42 477.38,249.33 477.58,250.22 477.79,251.05 478.00,251.75 478.21,252.30 478.42,252.72 478.62,253.08 478.83,253.42 479.04,253.79 479.25,254.25 479.46,254.82 479.67,255.45 479.88,256.12 480.08,256.80 480.29,257.43 480.50,258.00 480.72,258.52 480.96,259.02 481.20,259.48 481.43,259.90 481.61,260.24 481.75,260.40" fill="none" stroke="#242058" stroke-width="1.1"/>
<path d="M450.2,195.7 L515.3,195.7 L515.3,260.4 L450.2,260.4 Z" fill="none" stroke="#111" stroke-width="0.9"/>
<line x1="449.0" y1="260.40" x2="450.2" y2="260.40" stroke="#111" stroke-width="0.5"/>
<text x="448.2" y="262.20" text-anchor="end" font-family='"Liberation Serif", serif' font-weight="bold" font-size="5.2">0</text>
<line x1="449.0" y1="247.46" x2="450.2" y2="247.46" stroke="#111" stroke-width="0.5"/>
<text x="448.2" y="249.26" text-anchor="end" font-family='"Liberation Serif", serif' font-weight="bold" font-size="5.2">20</text>
<line x1="449.0" y1="234.52" x2="450.2" y2="234.52" stroke="#111" stroke-width="0.5"/>
<text x="448.2" y="236.32" text-anchor="end" font-family='"Liberation Serif", serif' font-weight="bold" font-size="5.2">40</text>
<line x1="449.0" y1="221.58" x2="450.2" y2="221.58" stroke="#111" stroke-width="0.5"/>
<text x="448.2" y="223.38" text-anchor="end" font-family='"Liberation Serif", serif' font-weight="bold" font-size="5.2">60</text>
<line x1="449.0" y1="208.64" x2="450.2" y2="208.64" stroke="#111" stroke-width="0.5"/>
<text x="448.2" y="210.44" text-anchor="end" font-family='"Liberation Serif", serif' font-weight="bold" font-size="5.2">80</text>
<line x1="449.0" y1="195.70" x2="450.2" y2="195.70" stroke="#111" stroke-width="0.5"/>
<text x="448.2" y="197.50" text-anchor="end" font-family='"Liberation Serif", serif' font-weight="bold" font-size="5.2">100</text>
<line x1="450.30" y1="260.4" x2="450.30" y2="261.59999999999997" stroke="#111" stroke-width="0.5"/>
<text x="450.30" y="267.00" text-anchor="middle" font-family='"Liberation Serif", serif' font-weight="bold" font-size="5.2">1</text>
<line x1="466.20" y1="260.4" x2="466.20" y2="261.59999999999997" stroke="#111" stroke-width="0.5"/>
<text x="466.20" y="267.00" text-anchor="middle" font-family='"Liberation Serif", serif' font-weight="bold" font-size="5.2">10</text>
<line x1="482.10" y1="260.4" x2="482.10" y2="261.59999999999997" stroke="#111" stroke-width="0.5"/>
<text x="479.50" y="267.00" font-family='"Liberation Serif", serif' font-weight="bold" font-size="5.2">10<tspan dy="-2" font-size="3.9">2</tspan></text>
<line x1="498.00" y1="260.4" x2="498.00" y2="261.59999999999997" stroke="#111" stroke-width="0.5"/>
<text x="495.40" y="267.00" font-family='"Liberation Serif", serif' font-weight="bold" font-size="5.2">10<tspan dy="-2" font-size="3.9">3</tspan></text>
<line x1="513.90" y1="260.4" x2="513.90" y2="261.59999999999997" stroke="#111" stroke-width="0.5"/>
<text x="511.30" y="267.00" font-family='"Liberation Serif", serif' font-weight="bold" font-size="5.2">10<tspan dy="-2" font-size="3.9">4</tspan></text>
</g>
<text x="174.7" y="148.2" font-family='"Liberation Sans", sans-serif' font-weight="bold" font-size="9.9" stroke="#000" stroke-width="0.15">CD8</text>
<text x="174.9" y="233.7" font-family='"Liberation Sans", sans-serif' font-weight="bold" font-size="9.9" stroke="#000" stroke-width="0.15">CD4</text>
<text transform="translate(191.8,188.2) rotate(-90)" text-anchor="middle" font-family='"Liberation Sans", sans-serif' font-weight="bold" font-size="10.0" fill="#111">% of max</text>
<text x="239.6" y="278.0" text-anchor="middle" font-family='"Liberation Sans", sans-serif' font-weight="bold" font-size="8.3" stroke="#000" stroke-width="0.12">PSGL-1-PE</text>
<text x="321" y="278.0" text-anchor="middle" font-family='"Liberation Sans", sans-serif' font-weight="bold" font-size="8.3" stroke="#000" stroke-width="0.12">CD62L PE-TxRed</text>
<text x="403.3" y="278.0" text-anchor="middle" font-family='"Liberation Sans", sans-serif' font-weight="bold" font-size="8.3" stroke="#000" stroke-width="0.12">CD11a-FITC</text>
<text x="482" y="278.0" text-anchor="middle" font-family='"Liberation Sans", sans-serif' font-weight="bold" font-size="8.3" stroke="#000" stroke-width="0.12">CD49d-APC</text>
</svg>
</body></html>
